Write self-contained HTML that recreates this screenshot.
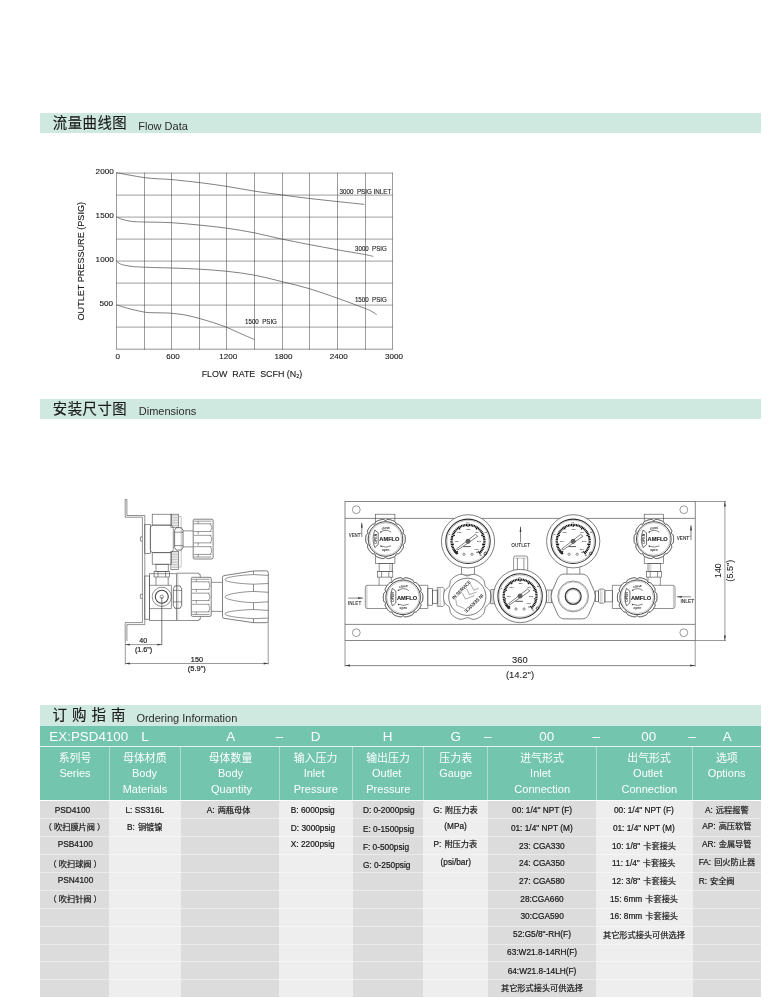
<!DOCTYPE html>
<html><head><meta charset="utf-8"><title>Flow Data / Dimensions / Ordering Information</title>
<style>

html,body{margin:0;padding:0;background:#fff;}
body{width:780px;height:1008px;overflow:hidden;font-family:"Liberation Sans","Noto Sans CJK SC",sans-serif;}
#pg{position:relative;width:780px;height:1008px;overflow:hidden;will-change:transform;}
.a{position:absolute;}
.t{position:absolute;white-space:pre;line-height:20px;height:20px;color:#2a2a2a;}
.tc{transform:translateX(-50%);}
.tr{transform:translateX(-100%);}
svg.c{display:inline-block;overflow:visible;}
svg{overflow:visible;}
.cj{font-family:"Liberation Sans","Noto Sans CJK SC",sans-serif;}
.cs{font-family:"Liberation Sans","Noto Sans CJK SC",sans-serif;font-size:8.2px;margin-left:0.7px;}

</style></head><body>
<div id="pg">
<div class="a" style="left:40.00px;top:113.00px;width:721.30px;height:19.90px;background:#cfe9e0;"></div><div class="t" style="left:52.80px;top:113.21px;font-size:14.4px;color:#1a1a1a;"><span class="cj" style="letter-spacing:0.5px;-webkit-text-stroke:0.17px #1a1a1a;">流量曲线图</span></div><div class="t" style="left:138.30px;top:116.19px;font-size:11px;color:#2a2a2a;">Flow Data</div><div class="a" style="left:40.00px;top:398.80px;width:721.30px;height:20.00px;background:#cfe9e0;"></div><div class="t" style="left:52.80px;top:399.01px;font-size:14.4px;color:#1a1a1a;"><span class="cj" style="letter-spacing:0.5px;-webkit-text-stroke:0.17px #1a1a1a;">安装尺寸图</span></div><div class="t" style="left:138.80px;top:401.19px;font-size:11px;color:#2a2a2a;">Dimensions</div><div class="a" style="left:40.00px;top:705.20px;width:721.40px;height:20.60px;background:#cfe9e0;"></div><div class="t" style="left:52.60px;top:704.78px;font-size:14.5px;color:#1a1a1a;"><span class="cj" style="letter-spacing:5px;-webkit-text-stroke:0.17px #1a1a1a;">订购指南</span></div><div class="t" style="left:136.40px;top:708.49px;font-size:11px;color:#2a2a2a;">Ordering Information</div><svg class="a" style="left:0;top:150px" width="440" height="240" viewBox="0 150 440 240"><line x1="116.4" y1="173.20" x2="392.7" y2="173.20" stroke="#b2b2b2" stroke-width="1.25"/><line x1="116.4" y1="195.20" x2="392.7" y2="195.20" stroke="#b2b2b2" stroke-width="1.25"/><line x1="116.4" y1="217.20" x2="392.7" y2="217.20" stroke="#b2b2b2" stroke-width="1.25"/><line x1="116.4" y1="239.20" x2="392.7" y2="239.20" stroke="#b2b2b2" stroke-width="1.25"/><line x1="116.4" y1="261.20" x2="392.7" y2="261.20" stroke="#b2b2b2" stroke-width="1.25"/><line x1="116.4" y1="283.20" x2="392.7" y2="283.20" stroke="#b2b2b2" stroke-width="1.25"/><line x1="116.4" y1="305.20" x2="392.7" y2="305.20" stroke="#b2b2b2" stroke-width="1.25"/><line x1="116.4" y1="327.20" x2="392.7" y2="327.20" stroke="#b2b2b2" stroke-width="1.25"/><line x1="116.4" y1="349.2" x2="392.7" y2="349.2" stroke="#777" stroke-width="0.8"/><line x1="116.50" y1="172.7" x2="116.50" y2="349.59999999999997" stroke="#4a4a4a" stroke-width="0.55"/><line x1="144.50" y1="172.7" x2="144.50" y2="349.59999999999997" stroke="#4a4a4a" stroke-width="0.55"/><line x1="171.50" y1="172.7" x2="171.50" y2="349.59999999999997" stroke="#4a4a4a" stroke-width="0.55"/><line x1="199.50" y1="172.7" x2="199.50" y2="349.59999999999997" stroke="#4a4a4a" stroke-width="0.55"/><line x1="226.50" y1="172.7" x2="226.50" y2="349.59999999999997" stroke="#4a4a4a" stroke-width="0.55"/><line x1="254.50" y1="172.7" x2="254.50" y2="349.59999999999997" stroke="#4a4a4a" stroke-width="0.55"/><line x1="282.50" y1="172.7" x2="282.50" y2="349.59999999999997" stroke="#4a4a4a" stroke-width="0.55"/><line x1="309.50" y1="172.7" x2="309.50" y2="349.59999999999997" stroke="#4a4a4a" stroke-width="0.55"/><line x1="337.50" y1="172.7" x2="337.50" y2="349.59999999999997" stroke="#4a4a4a" stroke-width="0.55"/><line x1="365.50" y1="172.7" x2="365.50" y2="349.59999999999997" stroke="#4a4a4a" stroke-width="0.55"/><line x1="392.50" y1="172.7" x2="392.50" y2="349.59999999999997" stroke="#4a4a4a" stroke-width="0.55"/><path d="M116.4 172.6C118.5 173.0 124.3 174.2 129.0 175.0C133.7 175.8 139.6 177.0 144.4 177.6C149.2 178.2 153.5 178.5 158.0 178.8C162.5 179.1 164.6 179.0 171.5 179.6C178.4 180.2 190.3 181.5 199.5 182.6C208.7 183.7 217.7 185.0 226.9 186.4C236.1 187.8 245.6 189.8 254.7 191.2C263.8 192.6 272.4 193.7 281.5 194.9C290.6 196.1 300.3 197.4 309.5 198.5C318.7 199.6 327.8 200.5 336.9 201.5C346.0 202.5 359.8 203.9 364.4 204.4" fill="none" stroke="#4a4a4a" stroke-width="0.7"/><path d="M116.4 216.9C117.3 217.3 119.9 218.6 122.0 219.3C124.1 220.0 126.9 220.6 129.2 221.0C131.5 221.4 133.5 221.5 136.0 221.7C138.5 221.9 138.5 221.8 144.4 222.0C150.3 222.2 162.3 222.2 171.5 222.7C180.7 223.2 190.3 224.2 199.5 225.1C208.7 226.0 217.7 226.9 226.9 228.2C236.1 229.5 245.6 231.1 254.7 232.9C263.8 234.7 272.4 237.1 281.5 239.0C290.6 240.9 300.3 242.8 309.5 244.6C318.7 246.4 327.8 248.1 336.9 249.7C346.0 251.3 358.3 253.3 364.4 254.4C370.5 255.5 371.8 256.1 373.3 256.4" fill="none" stroke="#4a4a4a" stroke-width="0.7"/><path d="M116.4 261.0C116.8 261.4 117.9 262.6 119.0 263.2C120.1 263.8 120.7 264.3 122.8 264.8C124.9 265.3 128.2 266.0 131.8 266.4C135.4 266.8 137.8 266.9 144.4 267.2C151.0 267.5 162.3 267.7 171.5 268.0C180.7 268.3 190.3 268.6 199.5 269.2C208.7 269.8 217.7 270.3 226.9 271.3C236.1 272.3 245.6 273.5 254.7 275.2C263.8 276.9 272.4 279.2 281.5 281.5C290.6 283.8 300.3 285.9 309.5 288.7C318.7 291.4 327.8 294.8 336.9 298.0C346.0 301.2 358.7 306.0 364.4 308.2C370.1 310.4 369.0 309.9 371.0 311.0C373.0 312.1 375.7 314.0 376.6 314.6" fill="none" stroke="#4a4a4a" stroke-width="0.7"/><path d="M116.4 304.9C118.5 305.5 124.5 307.5 129.2 308.7C133.9 309.9 140.4 311.4 144.4 312.1C148.4 312.8 150.0 312.6 153.0 312.7C156.0 312.8 159.5 312.8 162.6 312.9C165.7 313.0 167.7 312.9 171.5 313.3C175.3 313.7 180.9 314.2 185.6 315.1C190.3 316.0 194.8 317.2 199.5 318.5C204.2 319.8 209.2 321.3 213.8 322.8C218.4 324.3 222.6 325.7 226.9 327.4C231.2 329.1 234.9 331.1 239.5 333.1C244.1 335.1 251.9 338.4 254.4 339.5" fill="none" stroke="#4a4a4a" stroke-width="0.7"/><text x="95.6" y="174.39999999999998" font-size="7.2" text-anchor="start" textLength="18.2" lengthAdjust="spacingAndGlyphs" fill="#1a1a1a" stroke="#1a1a1a" stroke-width="0.12" xml:space="preserve" >2000</text><text x="95.6" y="218.39999999999998" font-size="7.2" text-anchor="start" textLength="18.2" lengthAdjust="spacingAndGlyphs" fill="#1a1a1a" stroke="#1a1a1a" stroke-width="0.12" xml:space="preserve" >1500</text><text x="95.6" y="262.4" font-size="7.2" text-anchor="start" textLength="18.2" lengthAdjust="spacingAndGlyphs" fill="#1a1a1a" stroke="#1a1a1a" stroke-width="0.12" xml:space="preserve" >1000</text><text x="99.5" y="306.4" font-size="7.2" text-anchor="start" textLength="13.6" lengthAdjust="spacingAndGlyphs" fill="#1a1a1a" stroke="#1a1a1a" stroke-width="0.12" xml:space="preserve" >500</text><text x="115.45" y="358.9" font-size="7.2" text-anchor="start" textLength="4.5" lengthAdjust="spacingAndGlyphs" fill="#1a1a1a" stroke="#1a1a1a" stroke-width="0.12" xml:space="preserve" >0</text><text x="166.26000000000002" y="358.9" font-size="7.2" text-anchor="start" textLength="13.4" lengthAdjust="spacingAndGlyphs" fill="#1a1a1a" stroke="#1a1a1a" stroke-width="0.12" xml:space="preserve" >600</text><text x="219.27" y="358.9" font-size="7.2" text-anchor="start" textLength="17.9" lengthAdjust="spacingAndGlyphs" fill="#1a1a1a" stroke="#1a1a1a" stroke-width="0.12" xml:space="preserve" >1200</text><text x="274.53" y="358.9" font-size="7.2" text-anchor="start" textLength="17.9" lengthAdjust="spacingAndGlyphs" fill="#1a1a1a" stroke="#1a1a1a" stroke-width="0.12" xml:space="preserve" >1800</text><text x="329.78999999999996" y="358.9" font-size="7.2" text-anchor="start" textLength="17.9" lengthAdjust="spacingAndGlyphs" fill="#1a1a1a" stroke="#1a1a1a" stroke-width="0.12" xml:space="preserve" >2400</text><text x="385.04999999999995" y="358.9" font-size="7.2" text-anchor="start" textLength="17.9" lengthAdjust="spacingAndGlyphs" fill="#1a1a1a" stroke="#1a1a1a" stroke-width="0.12" xml:space="preserve" >3000</text><text x="201.7" y="377" font-size="8.9" text-anchor="start" fill="#1a1a1a" stroke="#1a1a1a" stroke-width="0.12" xml:space="preserve" >FLOW  RATE  SCFH (N<tspan font-size="5.5" dy="1.2">2</tspan><tspan dy="-1.2">)</tspan></text><text transform="translate(83.6,320.5) rotate(-90)" font-size="8.6" fill="#1a1a1a" stroke="#1a1a1a" stroke-width="0.12" textLength="118.5" lengthAdjust="spacingAndGlyphs">OUTLET PRESSURE (PSIG)</text><text x="339.5" y="193.8" font-size="6.4" text-anchor="start" textLength="51.8" lengthAdjust="spacingAndGlyphs" fill="#1a1a1a" stroke="#1a1a1a" stroke-width="0.12" xml:space="preserve" >3000  PSIG INLET</text><text x="355.1" y="250.8" font-size="6.4" text-anchor="start" textLength="31.6" lengthAdjust="spacingAndGlyphs" fill="#1a1a1a" stroke="#1a1a1a" stroke-width="0.12" xml:space="preserve" >3000  PSIG</text><text x="354.9" y="301.8" font-size="6.4" text-anchor="start" textLength="32" lengthAdjust="spacingAndGlyphs" fill="#1a1a1a" stroke="#1a1a1a" stroke-width="0.12" xml:space="preserve" >1500  PSIG</text><text x="245.1" y="324.3" font-size="6.4" text-anchor="start" textLength="31.8" lengthAdjust="spacingAndGlyphs" fill="#1a1a1a" stroke="#1a1a1a" stroke-width="0.12" xml:space="preserve" >1500  PSIG</text></svg><svg class="a" style="left:100px;top:480px" width="660" height="215" viewBox="100 480 660 215" font-family="Liberation Sans, sans-serif"><path d="M125.2 499.4V517.2H142.4V622.6H125.2V641" fill="none" stroke="#484848" stroke-width="0.6" /><path d="M126.9 499.4V515.5H144.8V624.6H126.9V641" fill="none" stroke="#484848" stroke-width="0.6" /><line x1="125.20" y1="499.40" x2="126.90" y2="499.40" stroke="#484848" stroke-width="0.6"/><line x1="125.30" y1="641.00" x2="125.30" y2="664.50" stroke="#555" stroke-width="0.6"/><line x1="161.80" y1="597.00" x2="161.80" y2="645.30" stroke="#444" stroke-width="0.7"/><line x1="125.30" y1="644.60" x2="161.80" y2="644.60" stroke="#555" stroke-width="0.6"/><path d="M125.30 644.60L129.80 643.70L129.80 645.50Z" fill="#3a3a3a" stroke="none"/><path d="M161.80 644.60L157.30 645.50L157.30 643.70Z" fill="#3a3a3a" stroke="none"/><line x1="125.30" y1="663.50" x2="268.20" y2="663.50" stroke="#555" stroke-width="0.6"/><path d="M125.30 663.50L129.80 662.60L129.80 664.40Z" fill="#3a3a3a" stroke="none"/><path d="M268.20 663.50L263.70 664.40L263.70 662.60Z" fill="#3a3a3a" stroke="none"/><line x1="268.20" y1="621.50" x2="268.20" y2="664.50" stroke="#555" stroke-width="0.6"/><text x="143.30" y="643.40" font-size="7.9" text-anchor="middle" textLength="7.9" lengthAdjust="spacingAndGlyphs" fill="#222" font-weight="normal" stroke="#222" stroke-width="0.22" >40</text><text x="143.60" y="651.60" font-size="7.7" text-anchor="middle" textLength="17.3" lengthAdjust="spacingAndGlyphs" fill="#222" font-weight="normal" stroke="#222" stroke-width="0.22" >(1.6")</text><text x="196.90" y="662.40" font-size="7.9" text-anchor="middle" textLength="12.1" lengthAdjust="spacingAndGlyphs" fill="#222" font-weight="normal" stroke="#222" stroke-width="0.22" >150</text><text x="196.80" y="670.80" font-size="7.7" text-anchor="middle" textLength="18" lengthAdjust="spacingAndGlyphs" fill="#222" font-weight="normal" stroke="#222" stroke-width="0.22" >(5.9")</text><rect x="144.80" y="524.50" width="5.50" height="28.80" rx="0" fill="none" stroke="#484848" stroke-width="0.6"/><rect x="152.20" y="514.20" width="19.20" height="10.90" rx="0" fill="none" stroke="#484848" stroke-width="0.6"/><rect x="150.30" y="525.10" width="23.00" height="27.60" rx="3.2" fill="none" stroke="#484848" stroke-width="0.6"/><rect x="152.20" y="552.70" width="19.20" height="11.50" rx="0" fill="none" stroke="#484848" stroke-width="0.6"/><rect x="156.00" y="564.20" width="12.20" height="7.40" rx="0" fill="none" stroke="#484848" stroke-width="0.6"/><rect x="154.10" y="571.40" width="15.40" height="5.60" rx="0" fill="none" stroke="#484848" stroke-width="0.6"/><line x1="158.00" y1="571.40" x2="158.00" y2="577.00" stroke="#484848" stroke-width="0.6"/><line x1="165.60" y1="571.40" x2="165.60" y2="577.00" stroke="#484848" stroke-width="0.6"/><rect x="170.90" y="514.20" width="7.60" height="13.00" rx="0" fill="none" stroke="#484848" stroke-width="0.6"/><rect x="170.90" y="551.40" width="7.60" height="18.00" rx="0" fill="none" stroke="#484848" stroke-width="0.6"/><line x1="171.50" y1="515.82" x2="178.50" y2="515.82" stroke="#888" stroke-width="0.5"/><line x1="171.50" y1="517.44" x2="178.50" y2="517.44" stroke="#888" stroke-width="0.5"/><line x1="171.50" y1="519.06" x2="178.50" y2="519.06" stroke="#888" stroke-width="0.5"/><line x1="171.50" y1="520.68" x2="178.50" y2="520.68" stroke="#888" stroke-width="0.5"/><line x1="171.50" y1="522.30" x2="178.50" y2="522.30" stroke="#888" stroke-width="0.5"/><line x1="171.50" y1="523.92" x2="178.50" y2="523.92" stroke="#888" stroke-width="0.5"/><line x1="171.50" y1="525.54" x2="178.50" y2="525.54" stroke="#888" stroke-width="0.5"/><line x1="171.50" y1="553.02" x2="178.50" y2="553.02" stroke="#888" stroke-width="0.5"/><line x1="171.50" y1="554.64" x2="178.50" y2="554.64" stroke="#888" stroke-width="0.5"/><line x1="171.50" y1="556.26" x2="178.50" y2="556.26" stroke="#888" stroke-width="0.5"/><line x1="171.50" y1="557.88" x2="178.50" y2="557.88" stroke="#888" stroke-width="0.5"/><line x1="171.50" y1="559.50" x2="178.50" y2="559.50" stroke="#888" stroke-width="0.5"/><line x1="171.50" y1="561.12" x2="178.50" y2="561.12" stroke="#888" stroke-width="0.5"/><line x1="171.50" y1="562.74" x2="178.50" y2="562.74" stroke="#888" stroke-width="0.5"/><line x1="171.50" y1="564.36" x2="178.50" y2="564.36" stroke="#888" stroke-width="0.5"/><line x1="171.50" y1="565.98" x2="178.50" y2="565.98" stroke="#888" stroke-width="0.5"/><line x1="171.50" y1="567.60" x2="178.50" y2="567.60" stroke="#888" stroke-width="0.5"/><path d="M178.5 516.5H181.2V567H178.5" fill="none" stroke="#888" stroke-width="0.5" /><path d="M176.2 527.7H181.4L183 530.4V547.4L181.4 550.1H176.2L174.6 547.4V530.4Z" fill="none" stroke="#3c3c3c" stroke-width="0.7" /><line x1="174.60" y1="532.20" x2="183.00" y2="532.20" stroke="#484848" stroke-width="0.6"/><line x1="174.60" y1="545.60" x2="183.00" y2="545.60" stroke="#484848" stroke-width="0.6"/><line x1="183.00" y1="530.90" x2="193.20" y2="530.90" stroke="#484848" stroke-width="0.6"/><line x1="183.00" y1="546.90" x2="193.20" y2="546.90" stroke="#484848" stroke-width="0.6"/><path d="M194.39999999999998 519.2H211.9Q213.1 519.2 213.1 520.7V557.5Q213.1 559 211.9 559H194.39999999999998Q193.2 559 193.2 557.8V520.4000000000001Q193.2 519.2 194.39999999999998 519.2Z" fill="#fff" stroke="#4a4a4a" stroke-width="0.7" /><line x1="193.80" y1="521.19" x2="211.50" y2="521.19" stroke="#484848" stroke-width="0.55"/><line x1="193.80" y1="523.78" x2="211.50" y2="523.78" stroke="#484848" stroke-width="0.55"/><line x1="193.80" y1="531.54" x2="211.50" y2="531.54" stroke="#484848" stroke-width="0.55"/><line x1="193.80" y1="535.32" x2="211.50" y2="535.32" stroke="#484848" stroke-width="0.55"/><line x1="193.80" y1="542.88" x2="211.50" y2="542.88" stroke="#484848" stroke-width="0.55"/><line x1="193.80" y1="546.66" x2="211.50" y2="546.66" stroke="#484848" stroke-width="0.55"/><line x1="193.80" y1="554.42" x2="211.50" y2="554.42" stroke="#484848" stroke-width="0.55"/><line x1="193.80" y1="557.01" x2="211.50" y2="557.01" stroke="#484848" stroke-width="0.55"/><path d="M210.1 523.777Q213.4 527.6575 210.1 531.538" fill="none" stroke="#484848" stroke-width="0.55" /><path d="M210.1 535.3190000000001Q213.4 539.1 210.1 542.881" fill="none" stroke="#484848" stroke-width="0.55" /><path d="M210.1 546.662Q213.4 550.5425 210.1 554.423" fill="none" stroke="#484848" stroke-width="0.55" /><line x1="198.20" y1="521.19" x2="198.20" y2="523.78" stroke="#484848" stroke-width="0.55"/><line x1="198.20" y1="531.54" x2="198.20" y2="534.12" stroke="#484848" stroke-width="0.55"/><line x1="198.20" y1="542.88" x2="198.20" y2="545.47" stroke="#484848" stroke-width="0.55"/><line x1="198.20" y1="554.42" x2="198.20" y2="557.01" stroke="#484848" stroke-width="0.55"/><path d="M142.4 536.9H140.6Q139.9 539 140.6 541.1H142.4" fill="none" stroke="#484848" stroke-width="0.6" /><path d="M142.4 594.3H140.6Q139.9 596.4 140.6 598.5H142.4" fill="none" stroke="#484848" stroke-width="0.6" /><rect x="144.80" y="576.00" width="4.60" height="43.20" rx="0" fill="none" stroke="#484848" stroke-width="0.6"/><rect x="149.40" y="573.80" width="26.90" height="46.70" rx="0" fill="none" stroke="#484848" stroke-width="0.6"/><path d="M149.4 585.3H171.4V608.6H149.4" fill="none" stroke="#484848" stroke-width="0.6" /><line x1="156.00" y1="577.00" x2="156.00" y2="585.30" stroke="#484848" stroke-width="0.6"/><line x1="168.20" y1="577.00" x2="168.20" y2="585.30" stroke="#484848" stroke-width="0.6"/><circle cx="161.80" cy="596.80" r="9.60" fill="none" stroke="#484848" stroke-width="0.6"/><circle cx="161.80" cy="596.80" r="6.50" fill="none" stroke="#444" stroke-width="1.1"/><circle cx="161.80" cy="596.80" r="1.70" fill="none" stroke="#484848" stroke-width="0.6"/><path d="M174.9 585.9H180.1L181.7 588.6V605.6L180.1 608.3H174.9L173.3 605.6V588.6Z" fill="none" stroke="#3c3c3c" stroke-width="0.7" /><line x1="173.30" y1="590.40" x2="181.70" y2="590.40" stroke="#484848" stroke-width="0.6"/><line x1="173.30" y1="601.90" x2="181.70" y2="601.90" stroke="#484848" stroke-width="0.6"/><path d="M176.3 573.2H199V574.5H200.3V619.3H199V620.5H176.3" fill="none" stroke="#484848" stroke-width="0.6" /><line x1="177.80" y1="573.20" x2="177.80" y2="620.50" stroke="#888" stroke-width="0.5"/><path d="M192.5 577.3H210.0Q211.2 577.3 211.2 578.8V614.9Q211.2 616.4 210.0 616.4H192.5Q191.3 616.4 191.3 615.1999999999999V578.5Q191.3 577.3 192.5 577.3Z" fill="#fff" stroke="#4a4a4a" stroke-width="0.7" /><line x1="191.90" y1="579.25" x2="209.60" y2="579.25" stroke="#484848" stroke-width="0.55"/><line x1="191.90" y1="581.80" x2="209.60" y2="581.80" stroke="#484848" stroke-width="0.55"/><line x1="191.90" y1="589.42" x2="209.60" y2="589.42" stroke="#484848" stroke-width="0.55"/><line x1="191.90" y1="593.14" x2="209.60" y2="593.14" stroke="#484848" stroke-width="0.55"/><line x1="191.90" y1="600.56" x2="209.60" y2="600.56" stroke="#484848" stroke-width="0.55"/><line x1="191.90" y1="604.28" x2="209.60" y2="604.28" stroke="#484848" stroke-width="0.55"/><line x1="191.90" y1="611.90" x2="209.60" y2="611.90" stroke="#484848" stroke-width="0.55"/><line x1="191.90" y1="614.44" x2="209.60" y2="614.44" stroke="#484848" stroke-width="0.55"/><path d="M208.2 581.7964999999999Q211.5 585.6087499999999 208.2 589.4209999999999" fill="none" stroke="#484848" stroke-width="0.55" /><path d="M208.2 593.1355Q211.5 596.8499999999999 208.2 600.5645" fill="none" stroke="#484848" stroke-width="0.55" /><path d="M208.2 604.279Q211.5 608.09125 208.2 611.9035" fill="none" stroke="#484848" stroke-width="0.55" /><line x1="196.30" y1="579.25" x2="196.30" y2="581.80" stroke="#484848" stroke-width="0.55"/><line x1="196.30" y1="589.42" x2="196.30" y2="591.96" stroke="#484848" stroke-width="0.55"/><line x1="196.30" y1="600.56" x2="196.30" y2="603.11" stroke="#484848" stroke-width="0.55"/><line x1="196.30" y1="611.90" x2="196.30" y2="614.44" stroke="#484848" stroke-width="0.55"/><line x1="211.20" y1="582.30" x2="222.50" y2="582.30" stroke="#484848" stroke-width="0.6"/><line x1="211.20" y1="611.40" x2="222.50" y2="611.40" stroke="#484848" stroke-width="0.6"/><path d="M222.5 577.4Q222.5 576 224 575.6L253.5 571L266.2 570.8Q268.3 570.8 268.3 573.1V620.4Q268.3 622.7 266.2 622.7H253.5L224 618.3Q222.5 618 222.5 616.6Z" fill="#fff" stroke="#484848" stroke-width="0.7" /><path d="M268.3 575.4L253.5 574.6C238 575.2 225 577.4 225 579.6C225 581.8000000000001 238 583.6 253.5 584.2L268.3 583.5" fill="none" stroke="#484848" stroke-width="0.6" /><path d="M268.3 592.3L253.5 591.4C238 592.0 225 594.6999999999999 225 596.9C225 599.1 238 602.1 253.5 602.7L268.3 601.8" fill="none" stroke="#484848" stroke-width="0.6" /><path d="M268.3 610.4L253.5 609.5C238 610.1 225 611.5999999999999 225 613.8C225 616.0 238 618.0 253.5 618.6L268.3 618.1" fill="none" stroke="#484848" stroke-width="0.6" /><line x1="253.50" y1="571.00" x2="253.50" y2="574.60" stroke="#484848" stroke-width="0.6"/><line x1="253.50" y1="584.20" x2="253.50" y2="591.40" stroke="#484848" stroke-width="0.6"/><line x1="253.50" y1="602.70" x2="253.50" y2="609.50" stroke="#484848" stroke-width="0.6"/><line x1="253.50" y1="618.60" x2="253.50" y2="622.70" stroke="#484848" stroke-width="0.6"/><rect x="345.00" y="501.50" width="350.20" height="139.00" rx="0" fill="none" stroke="#555" stroke-width="0.7"/><line x1="345.00" y1="518.40" x2="695.20" y2="518.40" stroke="#606060" stroke-width="0.75"/><line x1="345.00" y1="624.40" x2="695.20" y2="624.40" stroke="#606060" stroke-width="0.75"/><circle cx="356.30" cy="509.70" r="3.90" fill="none" stroke="#555" stroke-width="0.6"/><circle cx="356.30" cy="632.70" r="3.90" fill="none" stroke="#555" stroke-width="0.6"/><circle cx="683.80" cy="509.70" r="3.90" fill="none" stroke="#555" stroke-width="0.6"/><circle cx="683.80" cy="632.70" r="3.90" fill="none" stroke="#555" stroke-width="0.6"/><line x1="345.00" y1="640.50" x2="345.00" y2="666.60" stroke="#555" stroke-width="0.6"/><line x1="695.20" y1="640.50" x2="695.20" y2="666.60" stroke="#555" stroke-width="0.6"/><line x1="345.00" y1="665.60" x2="695.20" y2="665.60" stroke="#666" stroke-width="0.8"/><path d="M345.00 665.60L350.00 664.60L350.00 666.60Z" fill="#3a3a3a" stroke="none"/><path d="M695.20 665.60L690.20 666.60L690.20 664.60Z" fill="#3a3a3a" stroke="none"/><text x="519.90" y="663.10" font-size="9.3" text-anchor="middle" textLength="15.6" lengthAdjust="spacingAndGlyphs" fill="#222" font-weight="normal" stroke="#222" stroke-width="0.08" >360</text><text x="520.00" y="677.60" font-size="9.3" text-anchor="middle" textLength="28.2" lengthAdjust="spacingAndGlyphs" fill="#222" font-weight="normal" stroke="#222" stroke-width="0.08" >(14.2")</text><line x1="695.20" y1="501.50" x2="726.00" y2="501.50" stroke="#555" stroke-width="0.6"/><line x1="695.20" y1="640.50" x2="726.00" y2="640.50" stroke="#555" stroke-width="0.6"/><line x1="724.90" y1="501.50" x2="724.90" y2="640.50" stroke="#555" stroke-width="0.6"/><path d="M724.90 501.50L725.90 506.50L723.90 506.50Z" fill="#3a3a3a" stroke="none"/><path d="M724.90 640.50L723.90 635.50L725.90 635.50Z" fill="#3a3a3a" stroke="none"/><text transform="translate(721.10,570.60) rotate(-90)" font-size="9.0" text-anchor="middle" textLength="14.6" lengthAdjust="spacingAndGlyphs" fill="#222" font-weight="normal" stroke="#222" stroke-width="0.08" >140</text><text transform="translate(733.20,570.70) rotate(-90)" font-size="9.0" text-anchor="middle" textLength="21.9" lengthAdjust="spacingAndGlyphs" fill="#222" font-weight="normal" stroke="#222" stroke-width="0.08" >(5.5")</text><rect x="375.60" y="514.20" width="19.30" height="49.40" rx="0" fill="none" stroke="#484848" stroke-width="0.6"/><rect x="379.10" y="563.60" width="13.50" height="8.00" rx="0" fill="none" stroke="#484848" stroke-width="0.6"/><rect x="377.60" y="571.50" width="15.20" height="5.60" rx="0" fill="none" stroke="#484848" stroke-width="0.6"/><line x1="381.60" y1="571.50" x2="381.60" y2="577.10" stroke="#484848" stroke-width="0.6"/><line x1="388.80" y1="571.50" x2="388.80" y2="577.10" stroke="#484848" stroke-width="0.6"/><line x1="389.60" y1="563.60" x2="389.60" y2="571.50" stroke="#999" stroke-width="0.5"/><line x1="391.10" y1="563.60" x2="391.10" y2="571.50" stroke="#999" stroke-width="0.5"/><line x1="379.10" y1="577.10" x2="379.10" y2="585.30" stroke="#484848" stroke-width="0.6"/><line x1="391.30" y1="577.10" x2="391.30" y2="585.30" stroke="#484848" stroke-width="0.6"/><path d="M405.30 539.00L405.30 539.35L405.29 539.69L405.27 540.04L405.25 540.38L405.22 540.73L405.19 541.07L405.15 541.41L405.10 541.76L405.05 542.10L404.98 542.43L404.88 542.77L404.73 543.09L404.52 543.39L404.25 543.67L403.91 543.93L403.56 544.18L403.27 544.43L403.09 544.72L403.07 545.05L403.15 545.43L403.29 545.83L403.41 546.24L403.47 546.63L403.46 547.00L403.39 547.34L403.27 547.67L403.13 547.99L402.98 548.29L402.82 548.60L402.65 548.90L402.47 549.20L402.29 549.49L402.11 549.78L401.91 550.07L401.72 550.36L401.52 550.64L401.31 550.92L401.10 551.19L400.89 551.46L400.67 551.73L400.44 551.99L400.21 552.25L399.98 552.50L399.74 552.75L399.49 552.99L399.24 553.23L398.96 553.44L398.66 553.61L398.31 553.74L397.92 553.80L397.49 553.81L397.07 553.80L396.68 553.84L396.37 553.97L396.16 554.22L396.01 554.57L395.88 554.98L395.74 555.38L395.56 555.74L395.33 556.03L395.07 556.26L394.78 556.46L394.49 556.63L394.18 556.79L393.87 556.94L393.55 557.09L393.24 557.23L392.92 557.36L392.60 557.48L392.27 557.61L391.95 557.72L391.62 557.83L391.29 557.93L390.96 558.03L390.62 558.13L390.29 558.21L389.95 558.29L389.62 558.37L389.28 558.44L388.94 558.50L388.60 558.55L388.25 558.58L387.91 558.59L387.56 558.55L387.20 558.45L386.85 558.27L386.50 558.03L386.16 557.77L385.82 557.58L385.50 557.50L385.18 557.58L384.84 557.77L384.50 558.03L384.15 558.27L383.80 558.45L383.44 558.55L383.09 558.59L382.75 558.58L382.40 558.55L382.06 558.50L381.72 558.44L381.38 558.37L381.05 558.29L380.71 558.21L380.38 558.13L380.04 558.03L379.71 557.93L379.38 557.83L379.05 557.72L378.73 557.61L378.40 557.48L378.08 557.36L377.76 557.23L377.45 557.09L377.13 556.94L376.82 556.79L376.51 556.63L376.22 556.46L375.93 556.26L375.67 556.03L375.44 555.74L375.26 555.38L375.12 554.98L374.99 554.57L374.84 554.22L374.63 553.97L374.32 553.84L373.93 553.80L373.51 553.81L373.08 553.80L372.69 553.74L372.34 553.61L372.04 553.44L371.76 553.23L371.51 552.99L371.26 552.75L371.02 552.50L370.79 552.25L370.56 551.99L370.33 551.73L370.11 551.46L369.90 551.19L369.69 550.92L369.48 550.64L369.28 550.36L369.09 550.07L368.89 549.78L368.71 549.49L368.53 549.20L368.35 548.90L368.18 548.60L368.02 548.29L367.87 547.99L367.73 547.67L367.61 547.34L367.54 547.00L367.53 546.63L367.59 546.24L367.71 545.83L367.85 545.43L367.93 545.05L367.91 544.72L367.73 544.43L367.44 544.18L367.09 543.93L366.75 543.67L366.48 543.39L366.27 543.09L366.12 542.77L366.02 542.43L365.95 542.10L365.90 541.76L365.85 541.41L365.81 541.07L365.78 540.73L365.75 540.38L365.73 540.04L365.71 539.69L365.70 539.35L365.70 539.00L365.70 538.65L365.71 538.31L365.73 537.96L365.75 537.62L365.78 537.27L365.81 536.93L365.85 536.59L365.90 536.24L365.95 535.90L366.02 535.57L366.12 535.23L366.27 534.91L366.48 534.61L366.75 534.33L367.09 534.07L367.44 533.82L367.73 533.57L367.91 533.28L367.93 532.95L367.85 532.57L367.71 532.17L367.59 531.76L367.53 531.37L367.54 531.00L367.61 530.66L367.73 530.33L367.87 530.01L368.02 529.71L368.18 529.40L368.35 529.10L368.53 528.80L368.71 528.51L368.89 528.22L369.09 527.93L369.28 527.64L369.48 527.36L369.69 527.08L369.90 526.81L370.11 526.54L370.33 526.27L370.56 526.01L370.79 525.75L371.02 525.50L371.26 525.25L371.51 525.01L371.76 524.77L372.04 524.56L372.34 524.39L372.69 524.26L373.08 524.20L373.51 524.19L373.93 524.20L374.32 524.16L374.63 524.03L374.84 523.78L374.99 523.43L375.12 523.02L375.26 522.62L375.44 522.26L375.67 521.97L375.93 521.74L376.22 521.54L376.51 521.37L376.82 521.21L377.13 521.06L377.45 520.91L377.76 520.77L378.08 520.64L378.40 520.52L378.73 520.39L379.05 520.28L379.38 520.17L379.71 520.07L380.04 519.97L380.38 519.87L380.71 519.79L381.05 519.71L381.38 519.63L381.72 519.56L382.06 519.50L382.40 519.45L382.75 519.42L383.09 519.41L383.44 519.45L383.80 519.55L384.15 519.73L384.50 519.97L384.84 520.23L385.18 520.42L385.50 520.50L385.82 520.42L386.16 520.23L386.50 519.97L386.85 519.73L387.20 519.55L387.56 519.45L387.91 519.41L388.25 519.42L388.60 519.45L388.94 519.50L389.28 519.56L389.62 519.63L389.95 519.71L390.29 519.79L390.62 519.87L390.96 519.97L391.29 520.07L391.62 520.17L391.95 520.28L392.27 520.39L392.60 520.52L392.92 520.64L393.24 520.77L393.55 520.91L393.87 521.06L394.18 521.21L394.49 521.37L394.78 521.54L395.07 521.74L395.33 521.97L395.56 522.26L395.74 522.62L395.88 523.02L396.01 523.43L396.16 523.78L396.37 524.03L396.68 524.16L397.07 524.20L397.49 524.19L397.92 524.20L398.31 524.26L398.66 524.39L398.96 524.56L399.24 524.77L399.49 525.01L399.74 525.25L399.98 525.50L400.21 525.75L400.44 526.01L400.67 526.27L400.89 526.54L401.10 526.81L401.31 527.08L401.52 527.36L401.72 527.64L401.91 527.93L402.11 528.22L402.29 528.51L402.47 528.80L402.65 529.10L402.82 529.40L402.98 529.71L403.13 530.01L403.27 530.33L403.39 530.66L403.46 531.00L403.47 531.37L403.41 531.76L403.29 532.17L403.15 532.57L403.07 532.95L403.09 533.28L403.27 533.57L403.56 533.82L403.91 534.07L404.25 534.33L404.52 534.61L404.73 534.91L404.88 535.23L404.98 535.57L405.05 535.90L405.10 536.24L405.15 536.59L405.19 536.93L405.22 537.27L405.25 537.62L405.27 537.96L405.29 538.31L405.30 538.65L405.30 539.00Z" fill="#fff" stroke="#333" stroke-width="1.0" /><circle cx="385.50" cy="539.00" r="17.30" fill="none" stroke="#333" stroke-width="0.9"/><circle cx="385.50" cy="539.00" r="16.20" fill="none" stroke="#888" stroke-width="0.45"/><text x="389.40" y="541.20" font-size="5.9" text-anchor="middle" textLength="20.2" lengthAdjust="spacingAndGlyphs" fill="#2a2a2a" font-weight="bold"  stroke="#2a2a2a" stroke-width="0.15">AMFLO</text><path d="M374.8 530L378.2 532.8V544.6L374.8 547.6Q371.3 539 374.8 530Z" fill="none" stroke="#333" stroke-width="0.7" /><text transform="translate(376.50,538.80) rotate(-90)" font-size="4.0" text-anchor="middle" textLength="10" lengthAdjust="spacingAndGlyphs" fill="#2a2a2a" font-weight="bold" stroke="#2a2a2a" stroke-width="0" >OPEN</text><path d="M380.7 532.1Q385.9 528.6 391.1 532.1" fill="none" stroke="#333" stroke-width="0.6" /><path d="M380.7 545.9Q385.9 548.3 391.1 545.9" fill="none" stroke="#333" stroke-width="0.6" /><path d="M379.90 532.80L380.80 530.95L381.85 532.15Z" fill="#333" stroke="none"/><path d="M379.90 545.40L381.90 545.90L380.94 547.18Z" fill="#333" stroke="none"/><text transform="translate(385.90,529.10) rotate(-8)" font-size="3.6" text-anchor="middle" textLength="8.6" lengthAdjust="spacingAndGlyphs" fill="#333" font-weight="bold" stroke="#333" stroke-width="0" >close</text><text x="385.70" y="550.90" font-size="3.6" text-anchor="middle" textLength="7.6" lengthAdjust="spacingAndGlyphs" fill="#333" font-weight="bold" stroke="#333" stroke-width="0" >open</text><text x="354.60" y="536.70" font-size="4.6" text-anchor="middle" textLength="11.8" lengthAdjust="spacingAndGlyphs" fill="#444" font-weight="bold" stroke="#444" stroke-width="0" >VENT</text><line x1="361.80" y1="523.00" x2="361.80" y2="537.00" stroke="#3a3a3a" stroke-width="0.6"/><path d="M361.80 522.20L362.70 527.80L360.90 527.80Z" fill="#3a3a3a" stroke="none"/><line x1="360.20" y1="533.30" x2="361.80" y2="533.30" stroke="#3a3a3a" stroke-width="0.5"/><path d="M366.9 585.3H427.8V608.5H366.9Q365.3 607.9 365.3 606.4V587.4Q365.3 585.9 366.9 585.3Z" fill="none" stroke="#484848" stroke-width="0.6" /><line x1="366.90" y1="585.30" x2="366.90" y2="608.50" stroke="#888" stroke-width="0.5"/><path d="M422.90 597.30L422.90 597.65L422.89 597.99L422.87 598.34L422.85 598.68L422.82 599.03L422.79 599.37L422.75 599.71L422.70 600.06L422.65 600.40L422.58 600.73L422.48 601.07L422.33 601.39L422.12 601.69L421.85 601.97L421.51 602.23L421.16 602.48L420.87 602.73L420.69 603.02L420.67 603.35L420.75 603.73L420.89 604.13L421.01 604.54L421.07 604.93L421.06 605.30L420.99 605.64L420.87 605.97L420.73 606.29L420.58 606.59L420.42 606.90L420.25 607.20L420.07 607.50L419.89 607.79L419.71 608.08L419.51 608.37L419.32 608.66L419.12 608.94L418.91 609.22L418.70 609.49L418.49 609.76L418.27 610.03L418.04 610.29L417.81 610.55L417.58 610.80L417.34 611.05L417.09 611.29L416.84 611.53L416.56 611.74L416.26 611.91L415.91 612.04L415.52 612.10L415.09 612.11L414.67 612.10L414.28 612.14L413.97 612.27L413.76 612.52L413.61 612.87L413.48 613.28L413.34 613.68L413.16 614.04L412.93 614.33L412.67 614.56L412.38 614.76L412.09 614.93L411.78 615.09L411.47 615.24L411.15 615.39L410.84 615.53L410.52 615.66L410.20 615.78L409.87 615.91L409.55 616.02L409.22 616.13L408.89 616.23L408.56 616.33L408.22 616.43L407.89 616.51L407.55 616.59L407.22 616.67L406.88 616.74L406.54 616.80L406.20 616.85L405.85 616.88L405.51 616.89L405.16 616.85L404.80 616.75L404.45 616.57L404.10 616.33L403.76 616.07L403.42 615.88L403.10 615.80L402.78 615.88L402.44 616.07L402.10 616.33L401.75 616.57L401.40 616.75L401.04 616.85L400.69 616.89L400.35 616.88L400.00 616.85L399.66 616.80L399.32 616.74L398.98 616.67L398.65 616.59L398.31 616.51L397.98 616.43L397.64 616.33L397.31 616.23L396.98 616.13L396.65 616.02L396.33 615.91L396.00 615.78L395.68 615.66L395.36 615.53L395.05 615.39L394.73 615.24L394.42 615.09L394.11 614.93L393.82 614.76L393.53 614.56L393.27 614.33L393.04 614.04L392.86 613.68L392.72 613.28L392.59 612.87L392.44 612.52L392.23 612.27L391.92 612.14L391.53 612.10L391.11 612.11L390.68 612.10L390.29 612.04L389.94 611.91L389.64 611.74L389.36 611.53L389.11 611.29L388.86 611.05L388.62 610.80L388.39 610.55L388.16 610.29L387.93 610.03L387.71 609.76L387.50 609.49L387.29 609.22L387.08 608.94L386.88 608.66L386.69 608.37L386.49 608.08L386.31 607.79L386.13 607.50L385.95 607.20L385.78 606.90L385.62 606.59L385.47 606.29L385.33 605.97L385.21 605.64L385.14 605.30L385.13 604.93L385.19 604.54L385.31 604.13L385.45 603.73L385.53 603.35L385.51 603.02L385.33 602.73L385.04 602.48L384.69 602.23L384.35 601.97L384.08 601.69L383.87 601.39L383.72 601.07L383.62 600.73L383.55 600.40L383.50 600.06L383.45 599.71L383.41 599.37L383.38 599.03L383.35 598.68L383.33 598.34L383.31 597.99L383.30 597.65L383.30 597.30L383.30 596.95L383.31 596.61L383.33 596.26L383.35 595.92L383.38 595.57L383.41 595.23L383.45 594.89L383.50 594.54L383.55 594.20L383.62 593.87L383.72 593.53L383.87 593.21L384.08 592.91L384.35 592.63L384.69 592.37L385.04 592.12L385.33 591.87L385.51 591.58L385.53 591.25L385.45 590.87L385.31 590.47L385.19 590.06L385.13 589.67L385.14 589.30L385.21 588.96L385.33 588.63L385.47 588.31L385.62 588.01L385.78 587.70L385.95 587.40L386.13 587.10L386.31 586.81L386.49 586.52L386.69 586.23L386.88 585.94L387.08 585.66L387.29 585.38L387.50 585.11L387.71 584.84L387.93 584.57L388.16 584.31L388.39 584.05L388.62 583.80L388.86 583.55L389.11 583.31L389.36 583.07L389.64 582.86L389.94 582.69L390.29 582.56L390.68 582.50L391.11 582.49L391.53 582.50L391.92 582.46L392.23 582.33L392.44 582.08L392.59 581.73L392.72 581.32L392.86 580.92L393.04 580.56L393.27 580.27L393.53 580.04L393.82 579.84L394.11 579.67L394.42 579.51L394.73 579.36L395.05 579.21L395.36 579.07L395.68 578.94L396.00 578.82L396.33 578.69L396.65 578.58L396.98 578.47L397.31 578.37L397.64 578.27L397.98 578.17L398.31 578.09L398.65 578.01L398.98 577.93L399.32 577.86L399.66 577.80L400.00 577.75L400.35 577.72L400.69 577.71L401.04 577.75L401.40 577.85L401.75 578.03L402.10 578.27L402.44 578.53L402.78 578.72L403.10 578.80L403.42 578.72L403.76 578.53L404.10 578.27L404.45 578.03L404.80 577.85L405.16 577.75L405.51 577.71L405.85 577.72L406.20 577.75L406.54 577.80L406.88 577.86L407.22 577.93L407.55 578.01L407.89 578.09L408.22 578.17L408.56 578.27L408.89 578.37L409.22 578.47L409.55 578.58L409.87 578.69L410.20 578.82L410.52 578.94L410.84 579.07L411.15 579.21L411.47 579.36L411.78 579.51L412.09 579.67L412.38 579.84L412.67 580.04L412.93 580.27L413.16 580.56L413.34 580.92L413.48 581.32L413.61 581.73L413.76 582.08L413.97 582.33L414.28 582.46L414.67 582.50L415.09 582.49L415.52 582.50L415.91 582.56L416.26 582.69L416.56 582.86L416.84 583.07L417.09 583.31L417.34 583.55L417.58 583.80L417.81 584.05L418.04 584.31L418.27 584.57L418.49 584.84L418.70 585.11L418.91 585.38L419.12 585.66L419.32 585.94L419.51 586.23L419.71 586.52L419.89 586.81L420.07 587.10L420.25 587.40L420.42 587.70L420.58 588.01L420.73 588.31L420.87 588.63L420.99 588.96L421.06 589.30L421.07 589.67L421.01 590.06L420.89 590.47L420.75 590.87L420.67 591.25L420.69 591.58L420.87 591.87L421.16 592.12L421.51 592.37L421.85 592.63L422.12 592.91L422.33 593.21L422.48 593.53L422.58 593.87L422.65 594.20L422.70 594.54L422.75 594.89L422.79 595.23L422.82 595.57L422.85 595.92L422.87 596.26L422.89 596.61L422.90 596.95L422.90 597.30Z" fill="#fff" stroke="#333" stroke-width="1.0" /><circle cx="403.10" cy="597.30" r="17.30" fill="none" stroke="#333" stroke-width="0.9"/><circle cx="403.10" cy="597.30" r="16.20" fill="none" stroke="#888" stroke-width="0.45"/><text x="407.00" y="599.50" font-size="5.9" text-anchor="middle" textLength="20.2" lengthAdjust="spacingAndGlyphs" fill="#2a2a2a" font-weight="bold"  stroke="#2a2a2a" stroke-width="0.15">AMFLO</text><path d="M392.40000000000003 588.3L395.8 591.0999999999999V602.9L392.40000000000003 605.9Q388.90000000000003 597.3 392.40000000000003 588.3Z" fill="none" stroke="#333" stroke-width="0.7" /><text transform="translate(394.10,597.10) rotate(-90)" font-size="4.0" text-anchor="middle" textLength="10" lengthAdjust="spacingAndGlyphs" fill="#2a2a2a" font-weight="bold" stroke="#2a2a2a" stroke-width="0" >OPEN</text><path d="M398.3 590.4Q403.5 586.9 408.70000000000005 590.4" fill="none" stroke="#333" stroke-width="0.6" /><path d="M398.3 604.1999999999999Q403.5 606.5999999999999 408.70000000000005 604.1999999999999" fill="none" stroke="#333" stroke-width="0.6" /><path d="M397.50 591.10L398.40 589.25L399.45 590.45Z" fill="#333" stroke="none"/><path d="M397.50 603.70L399.50 604.20L398.54 605.48Z" fill="#333" stroke="none"/><text transform="translate(403.50,587.40) rotate(-8)" font-size="3.6" text-anchor="middle" textLength="8.6" lengthAdjust="spacingAndGlyphs" fill="#333" font-weight="bold" stroke="#333" stroke-width="0" >close</text><text x="403.30" y="609.20" font-size="3.6" text-anchor="middle" textLength="7.6" lengthAdjust="spacingAndGlyphs" fill="#333" font-weight="bold" stroke="#333" stroke-width="0" >open</text><text x="354.60" y="604.60" font-size="4.6" text-anchor="middle" textLength="13.2" lengthAdjust="spacingAndGlyphs" fill="#444" font-weight="bold" stroke="#444" stroke-width="0" >INLET</text><line x1="348.30" y1="598.10" x2="363.00" y2="598.10" stroke="#3a3a3a" stroke-width="0.6"/><path d="M363.20 598.10L358.00 599.00L358.00 597.20Z" fill="#3a3a3a" stroke="none"/><rect x="427.80" y="588.50" width="4.50" height="16.70" rx="0" fill="none" stroke="#484848" stroke-width="0.6"/><rect x="432.30" y="590.20" width="5.00" height="13.40" rx="0" fill="none" stroke="#484848" stroke-width="0.6"/><path d="M437.3 587.4H443L444.2 588.6V605.2L443 606.4H437.3Z" fill="none" stroke="#484848" stroke-width="0.6" /><line x1="438.60" y1="587.40" x2="438.60" y2="606.40" stroke="#999" stroke-width="0.5"/><line x1="440.20" y1="587.40" x2="440.20" y2="606.40" stroke="#999" stroke-width="0.5"/><rect x="461.60" y="566.50" width="12.70" height="8.50" rx="0" fill="none" stroke="#484848" stroke-width="0.6"/><circle cx="468.00" cy="541.30" r="26.60" fill="#fff" stroke="#555" stroke-width="0.75"/><circle cx="468.00" cy="541.30" r="22.20" fill="none" stroke="#2e2e2e" stroke-width="1.05"/><circle cx="468.00" cy="541.30" r="21.00" fill="none" stroke="#888" stroke-width="0.45"/><path d="M457.89 551.41L455.55 553.75M456.17 551.01L454.40 552.47M455.28 549.80L453.37 551.08M454.51 548.51L452.48 549.60M453.86 547.16L451.74 548.04M453.36 545.74L451.16 546.41M453.97 544.09L450.74 544.73M452.77 542.80L450.48 543.03M452.70 541.30L450.40 541.30M452.77 539.80L450.48 539.57M452.99 538.32L450.74 537.87M453.36 536.86L451.16 536.19M454.79 535.83L451.74 534.56M454.51 534.09L452.48 533.00M455.28 532.80L453.37 531.52M456.17 531.59L454.40 530.13M457.18 530.48L455.55 528.85M458.29 529.47L456.83 527.70M460.06 529.41L458.22 526.67M460.79 527.81L459.70 525.78M462.14 527.16L461.26 525.04M463.56 526.66L462.89 524.46M465.02 526.29L464.57 524.04M466.50 526.07L466.27 523.78M468.00 527.00L468.00 523.70M469.50 526.07L469.73 523.78M470.98 526.29L471.43 524.04M472.44 526.66L473.11 524.46M473.86 527.16L474.74 525.04M475.21 527.81L476.30 525.78M475.94 529.41L477.78 526.67M477.71 529.47L479.17 527.70M478.82 530.48L480.45 528.85M479.83 531.59L481.60 530.13M480.72 532.80L482.63 531.52M481.49 534.09L483.52 533.00M481.21 535.83L484.26 534.56M482.64 536.86L484.84 536.19M483.01 538.32L485.26 537.87M483.23 539.80L485.52 539.57M483.30 541.30L485.60 541.30M483.23 542.80L485.52 543.03M482.03 544.09L485.26 544.73M482.64 545.74L484.84 546.41M482.14 547.16L484.26 548.04M481.49 548.51L483.52 549.60M480.72 549.80L482.63 551.08M479.83 551.01L481.60 552.47M478.11 551.41L480.45 553.75" fill="none" stroke="#0a0a0a" stroke-width="1.1" /><path d="M456.6 548.9L475.4 534.4L477.8 536.3L457.6 550.0999999999999Z" fill="#fff" stroke="#2a2a2a" stroke-width="0.6" /><circle cx="468.00" cy="541.30" r="2.00" fill="#999" stroke="#3a3a3a" stroke-width="0.9"/><circle cx="468.00" cy="541.30" r="0.70" fill="#555" stroke="#333" stroke-width="0.5"/><circle cx="463.90" cy="554.30" r="1.15" fill="none" stroke="#333" stroke-width="0.55"/><circle cx="472.00" cy="554.30" r="1.15" fill="none" stroke="#333" stroke-width="0.55"/><path d="M454.0 549.9L457.6 554.0999999999999" fill="none" stroke="#2a2a2a" stroke-width="2.2" /><circle cx="485.40" cy="553.50" r="1.30" fill="none" stroke="#2a2a2a" stroke-width="0.7"/><path d="M476 552.3h2.2M479 553.9h1.6M479.8 555.3h1.8" fill="none" stroke="#333" stroke-width="0.7" /><path d="M463.4 546.5999999999999h7.4" fill="none" stroke="#2a2a2a" stroke-width="0.8" /><text x="449.60" y="534.70" font-size="2.5" text-anchor="middle" fill="#444" font-weight="bold" stroke="#444" stroke-width="0" >0</text><text x="467.20" y="522.90" font-size="2.5" text-anchor="middle" fill="#444" font-weight="bold" stroke="#444" stroke-width="0" >40</text><text x="486.00" y="532.70" font-size="2.5" text-anchor="middle" fill="#444" font-weight="bold" stroke="#444" stroke-width="0" >60</text><text x="459.40" y="533.10" font-size="2.5" text-anchor="middle" fill="#444" font-weight="bold" stroke="#444" stroke-width="0" >200</text><text x="468.40" y="529.70" font-size="2.5" text-anchor="middle" fill="#444" font-weight="bold" stroke="#444" stroke-width="0" >300</text><text x="476.60" y="533.30" font-size="2.5" text-anchor="middle" fill="#444" font-weight="bold" stroke="#444" stroke-width="0" >400</text><text x="456.60" y="542.10" font-size="2.5" text-anchor="middle" fill="#444" font-weight="bold" stroke="#444" stroke-width="0" >100</text><text x="479.00" y="542.10" font-size="2.5" text-anchor="middle" fill="#444" font-weight="bold" stroke="#444" stroke-width="0" >500</text><text x="476.60" y="549.70" font-size="2.5" text-anchor="middle" fill="#444" font-weight="bold" stroke="#444" stroke-width="0" >600</text><path d="M491.10 596.80L491.09 597.22L491.08 597.63L491.06 598.05L491.03 598.46L490.98 598.87L490.93 599.28L490.87 599.69L490.80 600.10L490.71 600.51L490.60 600.91L490.48 601.31L490.34 601.70L490.18 602.08L489.99 602.46L489.78 602.82L489.55 603.18L489.29 603.52L489.01 603.86L488.71 604.17L488.39 604.48L488.06 604.77L487.72 605.05L487.37 605.32L487.03 605.58L486.70 605.85L486.38 606.11L486.09 606.38L485.83 606.65L485.60 606.94L485.40 607.25L485.23 607.58L485.10 607.92L484.99 608.29L484.90 608.67L484.83 609.08L484.77 609.49L484.71 609.92L484.65 610.36L484.58 610.79L484.49 611.23L484.39 611.66L484.27 612.08L484.12 612.49L483.95 612.88L483.76 613.26L483.55 613.62L483.31 613.97L483.06 614.30L482.79 614.62L482.51 614.93L482.21 615.22L481.91 615.50L481.59 615.77L481.27 616.03L480.94 616.28L480.60 616.52L480.26 616.75L479.91 616.98L479.56 617.20L479.20 617.41L478.84 617.61L478.47 617.81L478.10 618.00L477.73 618.18L477.35 618.35L476.97 618.51L476.58 618.66L476.19 618.80L475.79 618.93L475.39 619.04L474.99 619.13L474.58 619.20L474.16 619.25L473.75 619.28L473.32 619.28L472.90 619.26L472.47 619.21L472.05 619.13L471.62 619.03L471.20 618.90L470.78 618.76L470.36 618.60L469.96 618.44L469.56 618.28L469.17 618.12L468.78 617.98L468.40 617.86L468.03 617.77L467.67 617.72L467.30 617.70L466.93 617.72L466.57 617.77L466.20 617.86L465.82 617.98L465.43 618.12L465.04 618.28L464.64 618.44L464.24 618.60L463.82 618.76L463.40 618.90L462.98 619.03L462.55 619.13L462.13 619.21L461.70 619.26L461.28 619.28L460.85 619.28L460.44 619.25L460.02 619.20L459.61 619.13L459.21 619.04L458.81 618.93L458.41 618.80L458.02 618.66L457.63 618.51L457.25 618.35L456.87 618.18L456.50 618.00L456.13 617.81L455.76 617.61L455.40 617.41L455.04 617.20L454.69 616.98L454.34 616.75L454.00 616.52L453.66 616.28L453.33 616.03L453.01 615.77L452.69 615.50L452.39 615.22L452.09 614.93L451.81 614.62L451.54 614.30L451.29 613.97L451.05 613.62L450.84 613.26L450.65 612.88L450.48 612.49L450.33 612.08L450.21 611.66L450.11 611.23L450.02 610.79L449.95 610.36L449.89 609.92L449.83 609.49L449.77 609.08L449.70 608.67L449.61 608.29L449.50 607.92L449.37 607.58L449.20 607.25L449.00 606.94L448.77 606.65L448.51 606.38L448.22 606.11L447.90 605.85L447.57 605.58L447.23 605.32L446.88 605.05L446.54 604.77L446.21 604.48L445.89 604.17L445.59 603.86L445.31 603.52L445.05 603.18L444.82 602.82L444.61 602.46L444.42 602.08L444.26 601.70L444.12 601.31L444.00 600.91L443.89 600.51L443.80 600.10L443.73 599.69L443.67 599.28L443.62 598.87L443.57 598.46L443.54 598.05L443.52 597.63L443.51 597.22L443.50 596.80L443.51 596.38L443.52 595.97L443.54 595.55L443.57 595.14L443.62 594.73L443.67 594.32L443.73 593.91L443.80 593.50L443.89 593.09L444.00 592.69L444.12 592.29L444.26 591.90L444.42 591.52L444.61 591.14L444.82 590.78L445.05 590.42L445.31 590.08L445.59 589.74L445.89 589.43L446.21 589.12L446.54 588.83L446.88 588.55L447.23 588.28L447.57 588.02L447.90 587.75L448.22 587.49L448.51 587.22L448.77 586.95L449.00 586.66L449.20 586.35L449.37 586.02L449.50 585.68L449.61 585.31L449.70 584.93L449.77 584.52L449.83 584.11L449.89 583.68L449.95 583.24L450.02 582.81L450.11 582.37L450.21 581.94L450.33 581.52L450.48 581.11L450.65 580.72L450.84 580.34L451.05 579.98L451.29 579.63L451.54 579.30L451.81 578.98L452.09 578.67L452.39 578.38L452.69 578.10L453.01 577.83L453.33 577.57L453.66 577.32L454.00 577.08L454.34 576.85L454.69 576.62L455.04 576.40L455.40 576.19L455.76 575.99L456.13 575.79L456.50 575.60L456.87 575.42L457.25 575.25L457.63 575.09L458.02 574.94L458.41 574.80L458.81 574.67L459.21 574.56L459.61 574.47L460.02 574.40L460.44 574.35L460.85 574.32L461.28 574.32L461.70 574.34L462.13 574.39L462.55 574.47L462.98 574.57L463.40 574.70L463.82 574.84L464.24 575.00L464.64 575.16L465.04 575.32L465.43 575.48L465.82 575.62L466.20 575.74L466.57 575.83L466.93 575.88L467.30 575.90L467.67 575.88L468.03 575.83L468.40 575.74L468.78 575.62L469.17 575.48L469.56 575.32L469.96 575.16L470.36 575.00L470.78 574.84L471.20 574.70L471.62 574.57L472.05 574.47L472.47 574.39L472.90 574.34L473.32 574.32L473.75 574.32L474.16 574.35L474.58 574.40L474.99 574.47L475.39 574.56L475.79 574.67L476.19 574.80L476.58 574.94L476.97 575.09L477.35 575.25L477.73 575.42L478.10 575.60L478.47 575.79L478.84 575.99L479.20 576.19L479.56 576.40L479.91 576.62L480.26 576.85L480.60 577.08L480.94 577.32L481.27 577.57L481.59 577.83L481.91 578.10L482.21 578.38L482.51 578.67L482.79 578.98L483.06 579.30L483.31 579.63L483.55 579.98L483.76 580.34L483.95 580.72L484.12 581.11L484.27 581.52L484.39 581.94L484.49 582.37L484.58 582.81L484.65 583.24L484.71 583.68L484.77 584.11L484.83 584.52L484.90 584.93L484.99 585.31L485.10 585.68L485.23 586.02L485.40 586.35L485.60 586.66L485.83 586.95L486.09 587.22L486.38 587.49L486.70 587.75L487.03 588.02L487.37 588.28L487.72 588.55L488.06 588.83L488.39 589.12L488.71 589.43L489.01 589.74L489.29 590.08L489.55 590.42L489.78 590.78L489.99 591.14L490.18 591.52L490.34 591.90L490.48 592.29L490.60 592.69L490.71 593.09L490.80 593.50L490.87 593.91L490.93 594.32L490.98 594.73L491.03 595.14L491.06 595.55L491.08 595.97L491.09 596.38L491.10 596.80Z" fill="#fff" stroke="#444" stroke-width="0.75" /><circle cx="467.30" cy="596.80" r="18.60" fill="none" stroke="#444" stroke-width="0.7"/><text transform="translate(462.70,591.20) rotate(-45)" font-size="5.0" text-anchor="middle" textLength="24.5" lengthAdjust="spacingAndGlyphs" fill="#333" font-weight="bold" stroke="#333" stroke-width="0" >IN SERVICE</text><text transform="translate(472.70,602.20) rotate(135)" font-size="5.0" text-anchor="middle" textLength="24.5" lengthAdjust="spacingAndGlyphs" fill="#333" font-weight="bold" stroke="#333" stroke-width="0" >IN SERVICE</text><path d="M462.40 593.10L465.40 599.10L474.40 595.60" fill="none" stroke="#555" stroke-width="0.5" /><path d="M466.55 588.70L469.55 594.70L476.55 592.00" fill="none" stroke="#555" stroke-width="0.5" /><path d="M470.70 584.30L473.70 590.30L478.70 588.30" fill="none" stroke="#555" stroke-width="0.5" /><path d="M455.8 599.3L456.7 605.4L464.7 608.5999999999999" fill="none" stroke="#555" stroke-width="0.5" /><rect x="490.80" y="589.70" width="4.10" height="14.10" rx="0" fill="none" stroke="#484848" stroke-width="0.6"/><line x1="492.20" y1="589.70" x2="492.20" y2="603.80" stroke="#999" stroke-width="0.5"/><line x1="493.60" y1="589.70" x2="493.60" y2="603.80" stroke="#999" stroke-width="0.5"/><path d="M513.6 570.1V558Q513.6 556 515.6 556H525.7Q527.7 556 527.7 558V570.1" fill="none" stroke="#484848" stroke-width="0.6" /><line x1="515.00" y1="558.20" x2="526.30" y2="558.20" stroke="#888" stroke-width="0.5"/><line x1="517.40" y1="558.20" x2="517.40" y2="570.00" stroke="#484848" stroke-width="0.6"/><line x1="523.90" y1="558.20" x2="523.90" y2="570.00" stroke="#484848" stroke-width="0.6"/><circle cx="520.10" cy="596.00" r="26.60" fill="#fff" stroke="#555" stroke-width="0.75"/><circle cx="520.10" cy="596.00" r="22.20" fill="none" stroke="#2e2e2e" stroke-width="1.05"/><circle cx="520.10" cy="596.00" r="21.00" fill="none" stroke="#888" stroke-width="0.45"/><path d="M509.99 606.11L507.65 608.45M508.27 605.71L506.50 607.17M507.38 604.50L505.47 605.78M506.61 603.21L504.58 604.30M505.96 601.86L503.84 602.74M505.46 600.44L503.26 601.11M506.07 598.79L502.84 599.43M504.87 597.50L502.58 597.73M504.80 596.00L502.50 596.00M504.87 594.50L502.58 594.27M505.09 593.02L502.84 592.57M505.46 591.56L503.26 590.89M506.89 590.53L503.84 589.26M506.61 588.79L504.58 587.70M507.38 587.50L505.47 586.22M508.27 586.29L506.50 584.83M509.28 585.18L507.65 583.55M510.39 584.17L508.93 582.40M512.16 584.11L510.32 581.37M512.89 582.51L511.80 580.48M514.24 581.86L513.36 579.74M515.66 581.36L514.99 579.16M517.12 580.99L516.67 578.74M518.60 580.77L518.37 578.48M520.10 581.70L520.10 578.40M521.60 580.77L521.83 578.48M523.08 580.99L523.53 578.74M524.54 581.36L525.21 579.16M525.96 581.86L526.84 579.74M527.31 582.51L528.40 580.48M528.04 584.11L529.88 581.37M529.81 584.17L531.27 582.40M530.92 585.18L532.55 583.55M531.93 586.29L533.70 584.83M532.82 587.50L534.73 586.22M533.59 588.79L535.62 587.70M533.31 590.53L536.36 589.26M534.74 591.56L536.94 590.89M535.11 593.02L537.36 592.57M535.33 594.50L537.62 594.27M535.40 596.00L537.70 596.00M535.33 597.50L537.62 597.73M534.13 598.79L537.36 599.43M534.74 600.44L536.94 601.11M534.24 601.86L536.36 602.74M533.59 603.21L535.62 604.30M532.82 604.50L534.73 605.78M531.93 605.71L533.70 607.17M530.21 606.11L532.55 608.45" fill="none" stroke="#0a0a0a" stroke-width="1.1" /><path d="M508.70000000000005 603.6L527.5 589.1L529.9 591.0L509.70000000000005 604.8Z" fill="#fff" stroke="#2a2a2a" stroke-width="0.6" /><circle cx="520.10" cy="596.00" r="2.00" fill="#999" stroke="#3a3a3a" stroke-width="0.9"/><circle cx="520.10" cy="596.00" r="0.70" fill="#555" stroke="#333" stroke-width="0.5"/><circle cx="516.00" cy="609.00" r="1.15" fill="none" stroke="#333" stroke-width="0.55"/><circle cx="524.10" cy="609.00" r="1.15" fill="none" stroke="#333" stroke-width="0.55"/><path d="M506.1 604.6L509.70000000000005 608.8" fill="none" stroke="#2a2a2a" stroke-width="2.2" /><circle cx="537.50" cy="608.20" r="1.30" fill="none" stroke="#2a2a2a" stroke-width="0.7"/><path d="M528.1 607h2.2M531.1 608.6h1.6M531.9 610h1.8" fill="none" stroke="#333" stroke-width="0.7" /><path d="M515.5 601.3h7.4" fill="none" stroke="#2a2a2a" stroke-width="0.8" /><text x="501.70" y="589.40" font-size="2.5" text-anchor="middle" fill="#444" font-weight="bold" stroke="#444" stroke-width="0" >0</text><text x="519.30" y="577.60" font-size="2.5" text-anchor="middle" fill="#444" font-weight="bold" stroke="#444" stroke-width="0" >40</text><text x="538.10" y="587.40" font-size="2.5" text-anchor="middle" fill="#444" font-weight="bold" stroke="#444" stroke-width="0" >60</text><text x="511.50" y="587.80" font-size="2.5" text-anchor="middle" fill="#444" font-weight="bold" stroke="#444" stroke-width="0" >200</text><text x="520.50" y="584.40" font-size="2.5" text-anchor="middle" fill="#444" font-weight="bold" stroke="#444" stroke-width="0" >300</text><text x="528.70" y="588.00" font-size="2.5" text-anchor="middle" fill="#444" font-weight="bold" stroke="#444" stroke-width="0" >400</text><text x="508.70" y="596.80" font-size="2.5" text-anchor="middle" fill="#444" font-weight="bold" stroke="#444" stroke-width="0" >100</text><text x="531.10" y="596.80" font-size="2.5" text-anchor="middle" fill="#444" font-weight="bold" stroke="#444" stroke-width="0" >500</text><text x="528.70" y="604.40" font-size="2.5" text-anchor="middle" fill="#444" font-weight="bold" stroke="#444" stroke-width="0" >600</text><text x="520.70" y="546.70" font-size="4.6" text-anchor="middle" textLength="19" lengthAdjust="spacingAndGlyphs" fill="#444" font-weight="bold" stroke="#444" stroke-width="0" >OUTLET</text><line x1="520.50" y1="526.80" x2="520.50" y2="542.40" stroke="#3a3a3a" stroke-width="0.6"/><path d="M520.50 526.20L521.40 532.00L519.60 532.00Z" fill="#3a3a3a" stroke="none"/><rect x="546.70" y="590.00" width="5.10" height="12.80" rx="0" fill="none" stroke="#484848" stroke-width="0.6"/><line x1="548.40" y1="590.00" x2="548.40" y2="602.80" stroke="#999" stroke-width="0.5"/><line x1="550.10" y1="590.00" x2="550.10" y2="602.80" stroke="#999" stroke-width="0.5"/><rect x="567.00" y="566.50" width="12.90" height="8.50" rx="0" fill="none" stroke="#484848" stroke-width="0.6"/><circle cx="573.20" cy="541.30" r="26.60" fill="#fff" stroke="#555" stroke-width="0.75"/><circle cx="573.20" cy="541.30" r="22.20" fill="none" stroke="#2e2e2e" stroke-width="1.05"/><circle cx="573.20" cy="541.30" r="21.00" fill="none" stroke="#888" stroke-width="0.45"/><path d="M563.09 551.41L560.75 553.75M561.37 551.01L559.60 552.47M560.48 549.80L558.57 551.08M559.71 548.51L557.68 549.60M559.06 547.16L556.94 548.04M558.56 545.74L556.36 546.41M559.17 544.09L555.94 544.73M557.97 542.80L555.68 543.03M557.90 541.30L555.60 541.30M557.97 539.80L555.68 539.57M558.19 538.32L555.94 537.87M558.56 536.86L556.36 536.19M559.99 535.83L556.94 534.56M559.71 534.09L557.68 533.00M560.48 532.80L558.57 531.52M561.37 531.59L559.60 530.13M562.38 530.48L560.75 528.85M563.49 529.47L562.03 527.70M565.26 529.41L563.42 526.67M565.99 527.81L564.90 525.78M567.34 527.16L566.46 525.04M568.76 526.66L568.09 524.46M570.22 526.29L569.77 524.04M571.70 526.07L571.47 523.78M573.20 527.00L573.20 523.70M574.70 526.07L574.93 523.78M576.18 526.29L576.63 524.04M577.64 526.66L578.31 524.46M579.06 527.16L579.94 525.04M580.41 527.81L581.50 525.78M581.14 529.41L582.98 526.67M582.91 529.47L584.37 527.70M584.02 530.48L585.65 528.85M585.03 531.59L586.80 530.13M585.92 532.80L587.83 531.52M586.69 534.09L588.72 533.00M586.41 535.83L589.46 534.56M587.84 536.86L590.04 536.19M588.21 538.32L590.46 537.87M588.43 539.80L590.72 539.57M588.50 541.30L590.80 541.30M588.43 542.80L590.72 543.03M587.23 544.09L590.46 544.73M587.84 545.74L590.04 546.41M587.34 547.16L589.46 548.04M586.69 548.51L588.72 549.60M585.92 549.80L587.83 551.08M585.03 551.01L586.80 552.47M583.31 551.41L585.65 553.75" fill="none" stroke="#0a0a0a" stroke-width="1.1" /><path d="M561.8000000000001 548.9L580.6 534.4L583.0 536.3L562.8000000000001 550.0999999999999Z" fill="#fff" stroke="#2a2a2a" stroke-width="0.6" /><circle cx="573.20" cy="541.30" r="2.00" fill="#999" stroke="#3a3a3a" stroke-width="0.9"/><circle cx="573.20" cy="541.30" r="0.70" fill="#555" stroke="#333" stroke-width="0.5"/><circle cx="569.10" cy="554.30" r="1.15" fill="none" stroke="#333" stroke-width="0.55"/><circle cx="577.20" cy="554.30" r="1.15" fill="none" stroke="#333" stroke-width="0.55"/><path d="M559.2 549.9L562.8000000000001 554.0999999999999" fill="none" stroke="#2a2a2a" stroke-width="2.2" /><circle cx="590.60" cy="553.50" r="1.30" fill="none" stroke="#2a2a2a" stroke-width="0.7"/><path d="M581.2 552.3h2.2M584.2 553.9h1.6M585.0 555.3h1.8" fill="none" stroke="#333" stroke-width="0.7" /><path d="M568.6 546.5999999999999h7.4" fill="none" stroke="#2a2a2a" stroke-width="0.8" /><text x="554.80" y="534.70" font-size="2.5" text-anchor="middle" fill="#444" font-weight="bold" stroke="#444" stroke-width="0" >0</text><text x="572.40" y="522.90" font-size="2.5" text-anchor="middle" fill="#444" font-weight="bold" stroke="#444" stroke-width="0" >40</text><text x="591.20" y="532.70" font-size="2.5" text-anchor="middle" fill="#444" font-weight="bold" stroke="#444" stroke-width="0" >60</text><text x="564.60" y="533.10" font-size="2.5" text-anchor="middle" fill="#444" font-weight="bold" stroke="#444" stroke-width="0" >200</text><text x="573.60" y="529.70" font-size="2.5" text-anchor="middle" fill="#444" font-weight="bold" stroke="#444" stroke-width="0" >300</text><text x="581.80" y="533.30" font-size="2.5" text-anchor="middle" fill="#444" font-weight="bold" stroke="#444" stroke-width="0" >400</text><text x="561.80" y="542.10" font-size="2.5" text-anchor="middle" fill="#444" font-weight="bold" stroke="#444" stroke-width="0" >100</text><text x="584.20" y="542.10" font-size="2.5" text-anchor="middle" fill="#444" font-weight="bold" stroke="#444" stroke-width="0" >500</text><text x="581.80" y="549.70" font-size="2.5" text-anchor="middle" fill="#444" font-weight="bold" stroke="#444" stroke-width="0" >600</text><path d="M564.7 574.1H581.7Q586.4000000000001 574.1 588.6 578.1999999999999L594.4000000000001 591.4Q596.2 596.4 594.4000000000001 601.4L588.6 614.8Q586.4000000000001 618.9 581.7 618.9H564.7Q560.0 618.9 557.8000000000001 614.8L552.0 601.4Q550.2 596.4 552.0 591.4L557.8000000000001 578.1999999999999Q560.0 574.1 564.7 574.1Z" fill="#fff" stroke="#484848" stroke-width="0.7" /><circle cx="573.20" cy="596.40" r="15.40" fill="none" stroke="#484848" stroke-width="0.6"/><circle cx="573.20" cy="596.40" r="14.40" fill="none" stroke="#888" stroke-width="0.5"/><circle cx="573.20" cy="596.40" r="7.90" fill="none" stroke="#3a3a3a" stroke-width="1.3"/><circle cx="573.20" cy="596.40" r="6.60" fill="none" stroke="#888" stroke-width="0.5"/><path d="M599.6 589H603.8L604.9 590.2V602L603.8 603.2H599.6L598.5 602V590.2Z" fill="none" stroke="#484848" stroke-width="0.6" /><line x1="600.40" y1="589.00" x2="600.40" y2="603.20" stroke="#999" stroke-width="0.5"/><line x1="602.00" y1="589.00" x2="602.00" y2="603.20" stroke="#999" stroke-width="0.5"/><rect x="595.40" y="591.00" width="3.10" height="10.40" rx="0" fill="none" stroke="#484848" stroke-width="0.6"/><rect x="604.90" y="590.70" width="7.50" height="11.20" rx="0" fill="none" stroke="#484848" stroke-width="0.6"/><path d="M612.4 585.3H673.4Q675 585.9 675 587.4V606.4Q675 607.9 673.4 608.5H612.4Z" fill="none" stroke="#484848" stroke-width="0.6" /><line x1="673.40" y1="585.30" x2="673.40" y2="608.50" stroke="#888" stroke-width="0.5"/><rect x="644.20" y="514.20" width="19.30" height="49.40" rx="0" fill="none" stroke="#484848" stroke-width="0.6"/><rect x="648.00" y="563.60" width="12.30" height="8.00" rx="0" fill="none" stroke="#484848" stroke-width="0.6"/><rect x="646.40" y="571.50" width="15.10" height="5.60" rx="0" fill="none" stroke="#484848" stroke-width="0.6"/><line x1="650.20" y1="571.50" x2="650.20" y2="577.10" stroke="#484848" stroke-width="0.6"/><line x1="657.60" y1="571.50" x2="657.60" y2="577.10" stroke="#484848" stroke-width="0.6"/><line x1="649.40" y1="563.60" x2="649.40" y2="571.50" stroke="#999" stroke-width="0.5"/><line x1="650.90" y1="563.60" x2="650.90" y2="571.50" stroke="#999" stroke-width="0.5"/><line x1="648.00" y1="577.10" x2="648.00" y2="585.30" stroke="#484848" stroke-width="0.6"/><line x1="660.30" y1="577.10" x2="660.30" y2="585.30" stroke="#484848" stroke-width="0.6"/><path d="M673.60 539.00L673.60 539.35L673.59 539.69L673.57 540.04L673.55 540.38L673.52 540.73L673.49 541.07L673.45 541.41L673.40 541.76L673.35 542.10L673.28 542.43L673.18 542.77L673.03 543.09L672.82 543.39L672.55 543.67L672.21 543.93L671.86 544.18L671.57 544.43L671.39 544.72L671.37 545.05L671.45 545.43L671.59 545.83L671.71 546.24L671.77 546.63L671.76 547.00L671.69 547.34L671.57 547.67L671.43 547.99L671.28 548.29L671.12 548.60L670.95 548.90L670.77 549.20L670.59 549.49L670.41 549.78L670.21 550.07L670.02 550.36L669.82 550.64L669.61 550.92L669.40 551.19L669.19 551.46L668.97 551.73L668.74 551.99L668.51 552.25L668.28 552.50L668.04 552.75L667.79 552.99L667.54 553.23L667.26 553.44L666.96 553.61L666.61 553.74L666.22 553.80L665.79 553.81L665.37 553.80L664.98 553.84L664.67 553.97L664.46 554.22L664.31 554.57L664.18 554.98L664.04 555.38L663.86 555.74L663.63 556.03L663.37 556.26L663.08 556.46L662.79 556.63L662.48 556.79L662.17 556.94L661.85 557.09L661.54 557.23L661.22 557.36L660.90 557.48L660.57 557.61L660.25 557.72L659.92 557.83L659.59 557.93L659.26 558.03L658.92 558.13L658.59 558.21L658.25 558.29L657.92 558.37L657.58 558.44L657.24 558.50L656.90 558.55L656.55 558.58L656.21 558.59L655.86 558.55L655.50 558.45L655.15 558.27L654.80 558.03L654.46 557.77L654.12 557.58L653.80 557.50L653.48 557.58L653.14 557.77L652.80 558.03L652.45 558.27L652.10 558.45L651.74 558.55L651.39 558.59L651.05 558.58L650.70 558.55L650.36 558.50L650.02 558.44L649.68 558.37L649.35 558.29L649.01 558.21L648.68 558.13L648.34 558.03L648.01 557.93L647.68 557.83L647.35 557.72L647.03 557.61L646.70 557.48L646.38 557.36L646.06 557.23L645.75 557.09L645.43 556.94L645.12 556.79L644.81 556.63L644.52 556.46L644.23 556.26L643.97 556.03L643.74 555.74L643.56 555.38L643.42 554.98L643.29 554.57L643.14 554.22L642.93 553.97L642.62 553.84L642.23 553.80L641.81 553.81L641.38 553.80L640.99 553.74L640.64 553.61L640.34 553.44L640.06 553.23L639.81 552.99L639.56 552.75L639.32 552.50L639.09 552.25L638.86 551.99L638.63 551.73L638.41 551.46L638.20 551.19L637.99 550.92L637.78 550.64L637.58 550.36L637.39 550.07L637.19 549.78L637.01 549.49L636.83 549.20L636.65 548.90L636.48 548.60L636.32 548.29L636.17 547.99L636.03 547.67L635.91 547.34L635.84 547.00L635.83 546.63L635.89 546.24L636.01 545.83L636.15 545.43L636.23 545.05L636.21 544.72L636.03 544.43L635.74 544.18L635.39 543.93L635.05 543.67L634.78 543.39L634.57 543.09L634.42 542.77L634.32 542.43L634.25 542.10L634.20 541.76L634.15 541.41L634.11 541.07L634.08 540.73L634.05 540.38L634.03 540.04L634.01 539.69L634.00 539.35L634.00 539.00L634.00 538.65L634.01 538.31L634.03 537.96L634.05 537.62L634.08 537.27L634.11 536.93L634.15 536.59L634.20 536.24L634.25 535.90L634.32 535.57L634.42 535.23L634.57 534.91L634.78 534.61L635.05 534.33L635.39 534.07L635.74 533.82L636.03 533.57L636.21 533.28L636.23 532.95L636.15 532.57L636.01 532.17L635.89 531.76L635.83 531.37L635.84 531.00L635.91 530.66L636.03 530.33L636.17 530.01L636.32 529.71L636.48 529.40L636.65 529.10L636.83 528.80L637.01 528.51L637.19 528.22L637.39 527.93L637.58 527.64L637.78 527.36L637.99 527.08L638.20 526.81L638.41 526.54L638.63 526.27L638.86 526.01L639.09 525.75L639.32 525.50L639.56 525.25L639.81 525.01L640.06 524.77L640.34 524.56L640.64 524.39L640.99 524.26L641.38 524.20L641.81 524.19L642.23 524.20L642.62 524.16L642.93 524.03L643.14 523.78L643.29 523.43L643.42 523.02L643.56 522.62L643.74 522.26L643.97 521.97L644.23 521.74L644.52 521.54L644.81 521.37L645.12 521.21L645.43 521.06L645.75 520.91L646.06 520.77L646.38 520.64L646.70 520.52L647.03 520.39L647.35 520.28L647.68 520.17L648.01 520.07L648.34 519.97L648.68 519.87L649.01 519.79L649.35 519.71L649.68 519.63L650.02 519.56L650.36 519.50L650.70 519.45L651.05 519.42L651.39 519.41L651.74 519.45L652.10 519.55L652.45 519.73L652.80 519.97L653.14 520.23L653.48 520.42L653.80 520.50L654.12 520.42L654.46 520.23L654.80 519.97L655.15 519.73L655.50 519.55L655.86 519.45L656.21 519.41L656.55 519.42L656.90 519.45L657.24 519.50L657.58 519.56L657.92 519.63L658.25 519.71L658.59 519.79L658.92 519.87L659.26 519.97L659.59 520.07L659.92 520.17L660.25 520.28L660.57 520.39L660.90 520.52L661.22 520.64L661.54 520.77L661.85 520.91L662.17 521.06L662.48 521.21L662.79 521.37L663.08 521.54L663.37 521.74L663.63 521.97L663.86 522.26L664.04 522.62L664.18 523.02L664.31 523.43L664.46 523.78L664.67 524.03L664.98 524.16L665.37 524.20L665.79 524.19L666.22 524.20L666.61 524.26L666.96 524.39L667.26 524.56L667.54 524.77L667.79 525.01L668.04 525.25L668.28 525.50L668.51 525.75L668.74 526.01L668.97 526.27L669.19 526.54L669.40 526.81L669.61 527.08L669.82 527.36L670.02 527.64L670.21 527.93L670.41 528.22L670.59 528.51L670.77 528.80L670.95 529.10L671.12 529.40L671.28 529.71L671.43 530.01L671.57 530.33L671.69 530.66L671.76 531.00L671.77 531.37L671.71 531.76L671.59 532.17L671.45 532.57L671.37 532.95L671.39 533.28L671.57 533.57L671.86 533.82L672.21 534.07L672.55 534.33L672.82 534.61L673.03 534.91L673.18 535.23L673.28 535.57L673.35 535.90L673.40 536.24L673.45 536.59L673.49 536.93L673.52 537.27L673.55 537.62L673.57 537.96L673.59 538.31L673.60 538.65L673.60 539.00Z" fill="#fff" stroke="#333" stroke-width="1.0" /><circle cx="653.80" cy="539.00" r="17.30" fill="none" stroke="#333" stroke-width="0.9"/><circle cx="653.80" cy="539.00" r="16.20" fill="none" stroke="#888" stroke-width="0.45"/><text x="657.70" y="541.20" font-size="5.9" text-anchor="middle" textLength="20.2" lengthAdjust="spacingAndGlyphs" fill="#2a2a2a" font-weight="bold"  stroke="#2a2a2a" stroke-width="0.15">AMFLO</text><path d="M643.0999999999999 530L646.5 532.8V544.6L643.0999999999999 547.6Q639.5999999999999 539 643.0999999999999 530Z" fill="none" stroke="#333" stroke-width="0.7" /><text transform="translate(644.80,538.80) rotate(-90)" font-size="4.0" text-anchor="middle" textLength="10" lengthAdjust="spacingAndGlyphs" fill="#2a2a2a" font-weight="bold" stroke="#2a2a2a" stroke-width="0" >OPEN</text><path d="M649.0 532.1Q654.1999999999999 528.6 659.4 532.1" fill="none" stroke="#333" stroke-width="0.6" /><path d="M649.0 545.9Q654.1999999999999 548.3 659.4 545.9" fill="none" stroke="#333" stroke-width="0.6" /><path d="M648.20 532.80L649.10 530.95L650.15 532.15Z" fill="#333" stroke="none"/><path d="M648.20 545.40L650.20 545.90L649.24 547.18Z" fill="#333" stroke="none"/><text transform="translate(654.20,529.10) rotate(-8)" font-size="3.6" text-anchor="middle" textLength="8.6" lengthAdjust="spacingAndGlyphs" fill="#333" font-weight="bold" stroke="#333" stroke-width="0" >close</text><text x="654.00" y="550.90" font-size="3.6" text-anchor="middle" textLength="7.6" lengthAdjust="spacingAndGlyphs" fill="#333" font-weight="bold" stroke="#333" stroke-width="0" >open</text><path d="M657.00 597.30L657.00 597.65L656.99 597.99L656.97 598.34L656.95 598.68L656.92 599.03L656.89 599.37L656.85 599.71L656.80 600.06L656.75 600.40L656.68 600.73L656.58 601.07L656.43 601.39L656.22 601.69L655.95 601.97L655.61 602.23L655.26 602.48L654.97 602.73L654.79 603.02L654.77 603.35L654.85 603.73L654.99 604.13L655.11 604.54L655.17 604.93L655.16 605.30L655.09 605.64L654.97 605.97L654.83 606.29L654.68 606.59L654.52 606.90L654.35 607.20L654.17 607.50L653.99 607.79L653.81 608.08L653.61 608.37L653.42 608.66L653.22 608.94L653.01 609.22L652.80 609.49L652.59 609.76L652.37 610.03L652.14 610.29L651.91 610.55L651.68 610.80L651.44 611.05L651.19 611.29L650.94 611.53L650.66 611.74L650.36 611.91L650.01 612.04L649.62 612.10L649.19 612.11L648.77 612.10L648.38 612.14L648.07 612.27L647.86 612.52L647.71 612.87L647.58 613.28L647.44 613.68L647.26 614.04L647.03 614.33L646.77 614.56L646.48 614.76L646.19 614.93L645.88 615.09L645.57 615.24L645.25 615.39L644.94 615.53L644.62 615.66L644.30 615.78L643.97 615.91L643.65 616.02L643.32 616.13L642.99 616.23L642.66 616.33L642.32 616.43L641.99 616.51L641.65 616.59L641.32 616.67L640.98 616.74L640.64 616.80L640.30 616.85L639.95 616.88L639.61 616.89L639.26 616.85L638.90 616.75L638.55 616.57L638.20 616.33L637.86 616.07L637.52 615.88L637.20 615.80L636.88 615.88L636.54 616.07L636.20 616.33L635.85 616.57L635.50 616.75L635.14 616.85L634.79 616.89L634.45 616.88L634.10 616.85L633.76 616.80L633.42 616.74L633.08 616.67L632.75 616.59L632.41 616.51L632.08 616.43L631.74 616.33L631.41 616.23L631.08 616.13L630.75 616.02L630.43 615.91L630.10 615.78L629.78 615.66L629.46 615.53L629.15 615.39L628.83 615.24L628.52 615.09L628.21 614.93L627.92 614.76L627.63 614.56L627.37 614.33L627.14 614.04L626.96 613.68L626.82 613.28L626.69 612.87L626.54 612.52L626.33 612.27L626.02 612.14L625.63 612.10L625.21 612.11L624.78 612.10L624.39 612.04L624.04 611.91L623.74 611.74L623.46 611.53L623.21 611.29L622.96 611.05L622.72 610.80L622.49 610.55L622.26 610.29L622.03 610.03L621.81 609.76L621.60 609.49L621.39 609.22L621.18 608.94L620.98 608.66L620.79 608.37L620.59 608.08L620.41 607.79L620.23 607.50L620.05 607.20L619.88 606.90L619.72 606.59L619.57 606.29L619.43 605.97L619.31 605.64L619.24 605.30L619.23 604.93L619.29 604.54L619.41 604.13L619.55 603.73L619.63 603.35L619.61 603.02L619.43 602.73L619.14 602.48L618.79 602.23L618.45 601.97L618.18 601.69L617.97 601.39L617.82 601.07L617.72 600.73L617.65 600.40L617.60 600.06L617.55 599.71L617.51 599.37L617.48 599.03L617.45 598.68L617.43 598.34L617.41 597.99L617.40 597.65L617.40 597.30L617.40 596.95L617.41 596.61L617.43 596.26L617.45 595.92L617.48 595.57L617.51 595.23L617.55 594.89L617.60 594.54L617.65 594.20L617.72 593.87L617.82 593.53L617.97 593.21L618.18 592.91L618.45 592.63L618.79 592.37L619.14 592.12L619.43 591.87L619.61 591.58L619.63 591.25L619.55 590.87L619.41 590.47L619.29 590.06L619.23 589.67L619.24 589.30L619.31 588.96L619.43 588.63L619.57 588.31L619.72 588.01L619.88 587.70L620.05 587.40L620.23 587.10L620.41 586.81L620.59 586.52L620.79 586.23L620.98 585.94L621.18 585.66L621.39 585.38L621.60 585.11L621.81 584.84L622.03 584.57L622.26 584.31L622.49 584.05L622.72 583.80L622.96 583.55L623.21 583.31L623.46 583.07L623.74 582.86L624.04 582.69L624.39 582.56L624.78 582.50L625.21 582.49L625.63 582.50L626.02 582.46L626.33 582.33L626.54 582.08L626.69 581.73L626.82 581.32L626.96 580.92L627.14 580.56L627.37 580.27L627.63 580.04L627.92 579.84L628.21 579.67L628.52 579.51L628.83 579.36L629.15 579.21L629.46 579.07L629.78 578.94L630.10 578.82L630.43 578.69L630.75 578.58L631.08 578.47L631.41 578.37L631.74 578.27L632.08 578.17L632.41 578.09L632.75 578.01L633.08 577.93L633.42 577.86L633.76 577.80L634.10 577.75L634.45 577.72L634.79 577.71L635.14 577.75L635.50 577.85L635.85 578.03L636.20 578.27L636.54 578.53L636.88 578.72L637.20 578.80L637.52 578.72L637.86 578.53L638.20 578.27L638.55 578.03L638.90 577.85L639.26 577.75L639.61 577.71L639.95 577.72L640.30 577.75L640.64 577.80L640.98 577.86L641.32 577.93L641.65 578.01L641.99 578.09L642.32 578.17L642.66 578.27L642.99 578.37L643.32 578.47L643.65 578.58L643.97 578.69L644.30 578.82L644.62 578.94L644.94 579.07L645.25 579.21L645.57 579.36L645.88 579.51L646.19 579.67L646.48 579.84L646.77 580.04L647.03 580.27L647.26 580.56L647.44 580.92L647.58 581.32L647.71 581.73L647.86 582.08L648.07 582.33L648.38 582.46L648.77 582.50L649.19 582.49L649.62 582.50L650.01 582.56L650.36 582.69L650.66 582.86L650.94 583.07L651.19 583.31L651.44 583.55L651.68 583.80L651.91 584.05L652.14 584.31L652.37 584.57L652.59 584.84L652.80 585.11L653.01 585.38L653.22 585.66L653.42 585.94L653.61 586.23L653.81 586.52L653.99 586.81L654.17 587.10L654.35 587.40L654.52 587.70L654.68 588.01L654.83 588.31L654.97 588.63L655.09 588.96L655.16 589.30L655.17 589.67L655.11 590.06L654.99 590.47L654.85 590.87L654.77 591.25L654.79 591.58L654.97 591.87L655.26 592.12L655.61 592.37L655.95 592.63L656.22 592.91L656.43 593.21L656.58 593.53L656.68 593.87L656.75 594.20L656.80 594.54L656.85 594.89L656.89 595.23L656.92 595.57L656.95 595.92L656.97 596.26L656.99 596.61L657.00 596.95L657.00 597.30Z" fill="#fff" stroke="#333" stroke-width="1.0" /><circle cx="637.20" cy="597.30" r="17.30" fill="none" stroke="#333" stroke-width="0.9"/><circle cx="637.20" cy="597.30" r="16.20" fill="none" stroke="#888" stroke-width="0.45"/><text x="641.10" y="599.50" font-size="5.9" text-anchor="middle" textLength="20.2" lengthAdjust="spacingAndGlyphs" fill="#2a2a2a" font-weight="bold"  stroke="#2a2a2a" stroke-width="0.15">AMFLO</text><path d="M626.5 588.3L629.9000000000001 591.0999999999999V602.9L626.5 605.9Q623.0 597.3 626.5 588.3Z" fill="none" stroke="#333" stroke-width="0.7" /><text transform="translate(628.20,597.10) rotate(-90)" font-size="4.0" text-anchor="middle" textLength="10" lengthAdjust="spacingAndGlyphs" fill="#2a2a2a" font-weight="bold" stroke="#2a2a2a" stroke-width="0" >OPEN</text><path d="M632.4000000000001 590.4Q637.6 586.9 642.8000000000001 590.4" fill="none" stroke="#333" stroke-width="0.6" /><path d="M632.4000000000001 604.1999999999999Q637.6 606.5999999999999 642.8000000000001 604.1999999999999" fill="none" stroke="#333" stroke-width="0.6" /><path d="M631.60 591.10L632.50 589.25L633.55 590.45Z" fill="#333" stroke="none"/><path d="M631.60 603.70L633.60 604.20L632.64 605.48Z" fill="#333" stroke="none"/><text transform="translate(637.60,587.40) rotate(-8)" font-size="3.6" text-anchor="middle" textLength="8.6" lengthAdjust="spacingAndGlyphs" fill="#333" font-weight="bold" stroke="#333" stroke-width="0" >close</text><text x="637.40" y="609.20" font-size="3.6" text-anchor="middle" textLength="7.6" lengthAdjust="spacingAndGlyphs" fill="#333" font-weight="bold" stroke="#333" stroke-width="0" >open</text><text x="682.90" y="539.90" font-size="4.6" text-anchor="middle" textLength="12.4" lengthAdjust="spacingAndGlyphs" fill="#444" font-weight="bold" stroke="#444" stroke-width="0" >VENT</text><line x1="691.00" y1="525.60" x2="691.00" y2="540.00" stroke="#3a3a3a" stroke-width="0.6"/><path d="M691.00 524.80L691.90 530.40L690.10 530.40Z" fill="#3a3a3a" stroke="none"/><line x1="689.40" y1="536.20" x2="691.00" y2="536.20" stroke="#3a3a3a" stroke-width="0.5"/><text x="687.30" y="602.80" font-size="4.6" text-anchor="middle" textLength="13.8" lengthAdjust="spacingAndGlyphs" fill="#444" font-weight="bold" stroke="#444" stroke-width="0" >INLET</text><line x1="677.00" y1="596.80" x2="691.00" y2="596.80" stroke="#3a3a3a" stroke-width="0.6"/><path d="M676.60 596.80L681.80 595.90L681.80 597.70Z" fill="#3a3a3a" stroke="none"/></svg><div class="a" style="left:40.00px;top:725.60px;width:721.40px;height:74.00px;background:#74c5ae;"></div><div class="a" style="left:40.00px;top:746.00px;width:721.40px;height:0.90px;background:#e4f3ee;"></div><div class="a" style="left:108.95px;top:746.50px;width:0.70px;height:53.10px;background:rgba(255,255,255,0.42);"></div><div class="a" style="left:180.25px;top:746.50px;width:0.70px;height:53.10px;background:rgba(255,255,255,0.42);"></div><div class="a" style="left:278.95px;top:746.50px;width:0.70px;height:53.10px;background:rgba(255,255,255,0.42);"></div><div class="a" style="left:352.35px;top:746.50px;width:0.70px;height:53.10px;background:rgba(255,255,255,0.42);"></div><div class="a" style="left:422.95px;top:746.50px;width:0.70px;height:53.10px;background:rgba(255,255,255,0.42);"></div><div class="a" style="left:487.35px;top:746.50px;width:0.70px;height:53.10px;background:rgba(255,255,255,0.42);"></div><div class="a" style="left:595.95px;top:746.50px;width:0.70px;height:53.10px;background:rgba(255,255,255,0.42);"></div><div class="a" style="left:692.45px;top:746.50px;width:0.70px;height:53.10px;background:rgba(255,255,255,0.42);"></div><div class="a" style="left:40.00px;top:800.90px;width:69.30px;height:196.50px;background:#dcdcdc;"></div><div class="a" style="left:109.30px;top:800.90px;width:71.30px;height:196.50px;background:#eeeeee;"></div><div class="a" style="left:180.60px;top:800.90px;width:98.70px;height:196.50px;background:#dcdcdc;"></div><div class="a" style="left:279.30px;top:800.90px;width:73.40px;height:196.50px;background:#eeeeee;"></div><div class="a" style="left:352.70px;top:800.90px;width:70.60px;height:196.50px;background:#dcdcdc;"></div><div class="a" style="left:423.30px;top:800.90px;width:64.40px;height:196.50px;background:#eeeeee;"></div><div class="a" style="left:487.70px;top:800.90px;width:108.60px;height:196.50px;background:#dcdcdc;"></div><div class="a" style="left:596.30px;top:800.90px;width:96.50px;height:196.50px;background:#eeeeee;"></div><div class="a" style="left:692.80px;top:800.90px;width:68.60px;height:196.50px;background:#dcdcdc;"></div><div class="a" style="left:40.00px;top:817.94px;width:721.40px;height:1.00px;background:rgba(255,255,255,0.42);"></div><div class="a" style="left:40.00px;top:835.88px;width:721.40px;height:1.00px;background:rgba(255,255,255,0.42);"></div><div class="a" style="left:40.00px;top:853.82px;width:721.40px;height:1.00px;background:rgba(255,255,255,0.42);"></div><div class="a" style="left:40.00px;top:871.76px;width:721.40px;height:1.00px;background:rgba(255,255,255,0.42);"></div><div class="a" style="left:40.00px;top:889.70px;width:721.40px;height:1.00px;background:rgba(255,255,255,0.42);"></div><div class="a" style="left:40.00px;top:907.64px;width:721.40px;height:1.00px;background:rgba(255,255,255,0.42);"></div><div class="a" style="left:40.00px;top:925.58px;width:721.40px;height:1.00px;background:rgba(255,255,255,0.42);"></div><div class="a" style="left:40.00px;top:943.52px;width:721.40px;height:1.00px;background:rgba(255,255,255,0.42);"></div><div class="a" style="left:40.00px;top:961.46px;width:721.40px;height:1.00px;background:rgba(255,255,255,0.42);"></div><div class="a" style="left:40.00px;top:979.40px;width:721.40px;height:1.00px;background:rgba(255,255,255,0.42);"></div><div class="t" style="left:49.30px;top:726.76px;font-size:13.4px;color:#fdfffe;">EX:PSD4100</div><div class="t tc" style="left:145.00px;top:726.76px;font-size:13.4px;color:#fdfffe;">L</div><div class="t tc" style="left:230.80px;top:726.76px;font-size:13.4px;color:#fdfffe;">A</div><div class="t tc" style="left:279.60px;top:726.76px;font-size:13.4px;color:#fdfffe;">–</div><div class="t tc" style="left:315.50px;top:726.76px;font-size:13.4px;color:#fdfffe;">D</div><div class="t tc" style="left:387.50px;top:726.76px;font-size:13.4px;color:#fdfffe;">H</div><div class="t tc" style="left:455.70px;top:726.76px;font-size:13.4px;color:#fdfffe;">G</div><div class="t tc" style="left:487.70px;top:726.76px;font-size:13.4px;color:#fdfffe;">–</div><div class="t tc" style="left:546.70px;top:726.76px;font-size:13.4px;color:#fdfffe;">00</div><div class="t tc" style="left:596.30px;top:726.76px;font-size:13.4px;color:#fdfffe;">–</div><div class="t tc" style="left:648.80px;top:726.76px;font-size:13.4px;color:#fdfffe;">00</div><div class="t tc" style="left:692.00px;top:726.76px;font-size:13.4px;color:#fdfffe;">–</div><div class="t tc" style="left:727.20px;top:726.76px;font-size:13.4px;color:#fdfffe;">A</div><div class="t tc" style="left:75.00px;top:748.22px;font-size:10.9px;color:#fdfffe;"><span class="cj">系列号</span></div><div class="t tc" style="left:75.00px;top:762.79px;font-size:11px;color:#fdfffe;">Series</div><div class="t tc" style="left:144.80px;top:748.22px;font-size:10.9px;color:#fdfffe;"><span class="cj">母体材质</span></div><div class="t tc" style="left:144.50px;top:762.79px;font-size:11px;color:#fdfffe;">Body</div><div class="t tc" style="left:145.00px;top:778.64px;font-size:11px;color:#fdfffe;">Materials</div><div class="t tc" style="left:230.50px;top:748.22px;font-size:10.9px;color:#fdfffe;"><span class="cj">母体数量</span></div><div class="t tc" style="left:230.50px;top:762.79px;font-size:11px;color:#fdfffe;">Body</div><div class="t tc" style="left:231.50px;top:778.64px;font-size:11px;color:#fdfffe;">Quantity</div><div class="t tc" style="left:315.50px;top:748.22px;font-size:10.9px;color:#fdfffe;"><span class="cj">输入压力</span></div><div class="t tc" style="left:314.10px;top:762.79px;font-size:11px;color:#fdfffe;">Inlet</div><div class="t tc" style="left:315.80px;top:778.64px;font-size:11px;color:#fdfffe;">Pressure</div><div class="t tc" style="left:388.00px;top:748.22px;font-size:10.9px;color:#fdfffe;"><span class="cj">输出压力</span></div><div class="t tc" style="left:386.70px;top:762.79px;font-size:11px;color:#fdfffe;">Outlet</div><div class="t tc" style="left:388.30px;top:778.64px;font-size:11px;color:#fdfffe;">Pressure</div><div class="t tc" style="left:455.70px;top:748.22px;font-size:10.9px;color:#fdfffe;"><span class="cj">压力表</span></div><div class="t tc" style="left:455.70px;top:762.79px;font-size:11px;color:#fdfffe;">Gauge</div><div class="t tc" style="left:542.00px;top:748.22px;font-size:10.9px;color:#fdfffe;"><span class="cj">进气形式</span></div><div class="t tc" style="left:540.50px;top:762.79px;font-size:11px;color:#fdfffe;">Inlet</div><div class="t tc" style="left:542.20px;top:778.64px;font-size:11px;color:#fdfffe;">Connection</div><div class="t tc" style="left:649.10px;top:748.22px;font-size:10.9px;color:#fdfffe;"><span class="cj">出气形式</span></div><div class="t tc" style="left:647.80px;top:762.79px;font-size:11px;color:#fdfffe;">Outlet</div><div class="t tc" style="left:649.30px;top:778.64px;font-size:11px;color:#fdfffe;">Connection</div><div class="t tc" style="left:726.80px;top:748.22px;font-size:10.9px;color:#fdfffe;"><span class="cj">选项</span></div><div class="t tc" style="left:726.60px;top:762.79px;font-size:11px;color:#fdfffe;">Options</div><div class="t tc" style="left:72.40px;top:800.22px;font-size:8.3px;color:#161616;-webkit-text-stroke:0.2px #161616;">PSD4100</div><div class="t tc" style="left:74.50px;top:817.32px;font-size:8.3px;color:#161616;-webkit-text-stroke:0.2px #161616;"><span class="cj" style="font-size:8.2px;">（<span style="margin:0 2px;">吹扫膜片阀</span>）</span></div><div class="t tc" style="left:75.30px;top:834.32px;font-size:8.3px;color:#161616;-webkit-text-stroke:0.2px #161616;">PSB4100</div><div class="t tc" style="left:75.20px;top:853.82px;font-size:8.3px;color:#161616;-webkit-text-stroke:0.2px #161616;"><span class="cj" style="font-size:8.2px;">（<span style="margin:0 2px;">吹扫球阀</span>）</span></div><div class="t tc" style="left:75.50px;top:870.22px;font-size:8.3px;color:#161616;-webkit-text-stroke:0.2px #161616;">PSN4100</div><div class="t tc" style="left:75.20px;top:888.62px;font-size:8.3px;color:#161616;-webkit-text-stroke:0.2px #161616;"><span class="cj" style="font-size:8.2px;">（<span style="margin:0 2px;">吹扫针阀</span>）</span></div><div class="t tc" style="left:144.80px;top:800.22px;font-size:8.3px;color:#161616;-webkit-text-stroke:0.2px #161616;">L: SS316L</div><div class="t tc" style="left:144.80px;top:817.12px;font-size:8.3px;color:#161616;-webkit-text-stroke:0.2px #161616;">B: <span class="cs">铜镀镍</span></div><div class="t tc" style="left:228.60px;top:800.22px;font-size:8.3px;color:#161616;-webkit-text-stroke:0.2px #161616;">A: <span class="cs">两瓶母体</span></div><div class="t" style="left:290.80px;top:800.22px;font-size:8.3px;color:#161616;-webkit-text-stroke:0.2px #161616;">B: 6000psig</div><div class="t" style="left:290.80px;top:817.62px;font-size:8.3px;color:#161616;-webkit-text-stroke:0.2px #161616;">D: 3000psig</div><div class="t" style="left:290.80px;top:834.32px;font-size:8.3px;color:#161616;-webkit-text-stroke:0.2px #161616;">X: 2200psig</div><div class="t" style="left:362.90px;top:800.22px;font-size:8.3px;color:#161616;-webkit-text-stroke:0.2px #161616;">D: 0-2000psig</div><div class="t" style="left:362.90px;top:818.52px;font-size:8.3px;color:#161616;-webkit-text-stroke:0.2px #161616;">E: 0-1500psig</div><div class="t" style="left:362.90px;top:837.02px;font-size:8.3px;color:#161616;-webkit-text-stroke:0.2px #161616;">F: 0-500psig</div><div class="t" style="left:362.90px;top:855.02px;font-size:8.3px;color:#161616;-webkit-text-stroke:0.2px #161616;">G: 0-250psig</div><div class="t tc" style="left:455.50px;top:800.22px;font-size:8.3px;color:#161616;-webkit-text-stroke:0.2px #161616;">G: <span class="cs">附压力表</span></div><div class="t tc" style="left:455.50px;top:816.42px;font-size:8.3px;color:#161616;-webkit-text-stroke:0.2px #161616;">(MPa)</div><div class="t tc" style="left:455.40px;top:834.32px;font-size:8.3px;color:#161616;-webkit-text-stroke:0.2px #161616;">P: <span class="cs">附压力表</span></div><div class="t tc" style="left:455.80px;top:851.72px;font-size:8.3px;color:#161616;-webkit-text-stroke:0.2px #161616;">(psi/bar)</div><div class="t tc" style="left:542.00px;top:799.72px;font-size:8.3px;color:#161616;-webkit-text-stroke:0.2px #161616;">00: 1/4" NPT (F)</div><div class="t tc" style="left:541.80px;top:817.62px;font-size:8.3px;color:#161616;-webkit-text-stroke:0.2px #161616;">01: 1/4" NPT (M)</div><div class="t tc" style="left:541.90px;top:835.92px;font-size:8.3px;color:#161616;-webkit-text-stroke:0.2px #161616;">23: CGA330</div><div class="t tc" style="left:541.90px;top:853.02px;font-size:8.3px;color:#161616;-webkit-text-stroke:0.2px #161616;">24: CGA350</div><div class="t tc" style="left:541.90px;top:870.92px;font-size:8.3px;color:#161616;-webkit-text-stroke:0.2px #161616;">27: CGA580</div><div class="t tc" style="left:542.00px;top:888.92px;font-size:8.3px;color:#161616;-webkit-text-stroke:0.2px #161616;">28:CGA660</div><div class="t tc" style="left:542.10px;top:906.32px;font-size:8.3px;color:#161616;-webkit-text-stroke:0.2px #161616;">30:CGA590</div><div class="t tc" style="left:542.00px;top:924.32px;font-size:8.3px;color:#161616;-webkit-text-stroke:0.2px #161616;">52:G5/8"-RH(F)</div><div class="t tc" style="left:542.10px;top:942.22px;font-size:8.3px;color:#161616;-webkit-text-stroke:0.2px #161616;">63:W21.8-14RH(F)</div><div class="t tc" style="left:542.00px;top:960.52px;font-size:8.3px;color:#161616;-webkit-text-stroke:0.2px #161616;">64:W21.8-14LH(F)</div><div class="t tc" style="left:541.90px;top:978.22px;font-size:8.3px;color:#161616;-webkit-text-stroke:0.2px #161616;"><span class="cj" style="font-size:8.2px;">其它形式接头可供选择</span></div><div class="t tc" style="left:643.90px;top:799.72px;font-size:8.3px;color:#161616;-webkit-text-stroke:0.2px #161616;">00: 1/4" NPT (F)</div><div class="t tc" style="left:643.80px;top:817.62px;font-size:8.3px;color:#161616;-webkit-text-stroke:0.2px #161616;">01: 1/4" NPT (M)</div><div class="t tc" style="left:644.00px;top:835.92px;font-size:8.3px;color:#161616;-webkit-text-stroke:0.2px #161616;">10: 1/8" <span class="cs">卡套接头</span></div><div class="t tc" style="left:643.80px;top:853.02px;font-size:8.3px;color:#161616;-webkit-text-stroke:0.2px #161616;">11: 1/4" <span class="cs">卡套接头</span></div><div class="t tc" style="left:644.00px;top:871.12px;font-size:8.3px;color:#161616;-webkit-text-stroke:0.2px #161616;">12: 3/8" <span class="cs">卡套接头</span></div><div class="t tc" style="left:644.00px;top:888.92px;font-size:8.3px;color:#161616;-webkit-text-stroke:0.2px #161616;">15: 6mm <span class="cs">卡套接头</span></div><div class="t tc" style="left:644.00px;top:906.32px;font-size:8.3px;color:#161616;-webkit-text-stroke:0.2px #161616;">16: 8mm <span class="cs">卡套接头</span></div><div class="t tc" style="left:643.90px;top:924.72px;font-size:8.3px;color:#161616;-webkit-text-stroke:0.2px #161616;"><span class="cj" style="font-size:8.2px;">其它形式接头可供选择</span></div><div class="t" style="left:705.00px;top:800.22px;font-size:8.3px;color:#161616;-webkit-text-stroke:0.2px #161616;">A: <span class="cs">远程报警</span></div><div class="t" style="left:702.30px;top:816.42px;font-size:8.3px;color:#161616;-webkit-text-stroke:0.2px #161616;">AP: <span class="cs">高压软管</span></div><div class="t" style="left:701.90px;top:834.32px;font-size:8.3px;color:#161616;-webkit-text-stroke:0.2px #161616;">AR: <span class="cs">金属导管</span></div><div class="t" style="left:698.70px;top:852.32px;font-size:8.3px;color:#161616;-webkit-text-stroke:0.2px #161616;">FA: <span class="cs">回火防止器</span></div><div class="t" style="left:698.70px;top:870.92px;font-size:8.3px;color:#161616;-webkit-text-stroke:0.2px #161616;">R: <span class="cs">安全阀</span></div>
</div>
</body></html>
